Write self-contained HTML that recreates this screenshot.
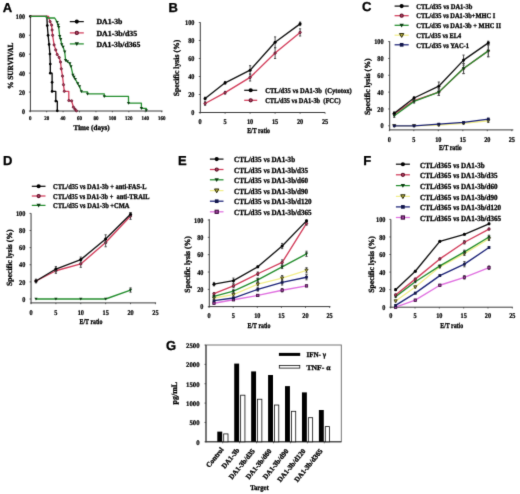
<!DOCTYPE html>
<html><head><meta charset="utf-8"><style>
html,body{margin:0;padding:0;background:#fff;}
svg{display:block;will-change:transform;text-rendering:geometricPrecision;}
</style></head><body>
<svg width="520" height="494" viewBox="0 0 520 494">
<defs><filter id="soft" x="0" y="0" width="100%" height="100%" filterUnits="userSpaceOnUse" color-interpolation-filters="sRGB"><feConvolveMatrix order="3" kernelMatrix="0.01134 0.08382 0.01134 0.08382 0.61935 0.08382 0.01134 0.08382 0.01134" edgeMode="duplicate" preserveAlpha="true"/></filter></defs>
<rect width="520" height="494" fill="#fff"/>
<g filter="url(#soft)">
<rect width="520" height="494" fill="#fff"/>
<text x="2.70" y="11.50" font-family="Liberation Sans" font-size="13" font-weight="bold" fill="#000" text-anchor="start" stroke="#000" stroke-width="0.3">A</text>
<line x1="30.40" y1="16.30" x2="30.40" y2="111.50" stroke="#3a3a3a" stroke-width="1.0"/>
<line x1="29.90" y1="111.00" x2="162.50" y2="111.00" stroke="#3a3a3a" stroke-width="1.0"/>
<line x1="28.90" y1="111.00" x2="30.40" y2="111.00" stroke="#3a3a3a" stroke-width="0.8"/>
<text x="25.00" y="113.58" font-family="Liberation Serif" font-size="7.0" font-weight="bold" fill="#000" text-anchor="end" stroke="#000" stroke-width="0.22" textLength="3.04" lengthAdjust="spacingAndGlyphs">0</text>
<line x1="28.90" y1="92.06" x2="30.40" y2="92.06" stroke="#3a3a3a" stroke-width="0.8"/>
<text x="25.00" y="94.64" font-family="Liberation Serif" font-size="7.0" font-weight="bold" fill="#000" text-anchor="end" stroke="#000" stroke-width="0.22" textLength="6.09" lengthAdjust="spacingAndGlyphs">20</text>
<line x1="28.90" y1="73.12" x2="30.40" y2="73.12" stroke="#3a3a3a" stroke-width="0.8"/>
<text x="25.00" y="75.70" font-family="Liberation Serif" font-size="7.0" font-weight="bold" fill="#000" text-anchor="end" stroke="#000" stroke-width="0.22" textLength="6.09" lengthAdjust="spacingAndGlyphs">40</text>
<line x1="28.90" y1="54.18" x2="30.40" y2="54.18" stroke="#3a3a3a" stroke-width="0.8"/>
<text x="25.00" y="56.76" font-family="Liberation Serif" font-size="7.0" font-weight="bold" fill="#000" text-anchor="end" stroke="#000" stroke-width="0.22" textLength="6.09" lengthAdjust="spacingAndGlyphs">60</text>
<line x1="28.90" y1="35.24" x2="30.40" y2="35.24" stroke="#3a3a3a" stroke-width="0.8"/>
<text x="25.00" y="37.82" font-family="Liberation Serif" font-size="7.0" font-weight="bold" fill="#000" text-anchor="end" stroke="#000" stroke-width="0.22" textLength="6.09" lengthAdjust="spacingAndGlyphs">80</text>
<line x1="28.90" y1="16.30" x2="30.40" y2="16.30" stroke="#3a3a3a" stroke-width="0.8"/>
<text x="25.00" y="18.88" font-family="Liberation Serif" font-size="7.0" font-weight="bold" fill="#000" text-anchor="end" stroke="#000" stroke-width="0.22" textLength="9.13" lengthAdjust="spacingAndGlyphs">100</text>
<line x1="30.20" y1="111.00" x2="30.20" y2="112.30" stroke="#3a3a3a" stroke-width="0.8"/>
<text x="30.20" y="119.98" font-family="Liberation Serif" font-size="5.7" font-weight="bold" fill="#000" text-anchor="middle" stroke="#000" stroke-width="0.22" textLength="2.48" lengthAdjust="spacingAndGlyphs">0</text>
<line x1="46.64" y1="111.00" x2="46.64" y2="112.30" stroke="#3a3a3a" stroke-width="0.8"/>
<text x="46.64" y="119.98" font-family="Liberation Serif" font-size="5.7" font-weight="bold" fill="#000" text-anchor="middle" stroke="#000" stroke-width="0.22" textLength="4.96" lengthAdjust="spacingAndGlyphs">20</text>
<line x1="63.08" y1="111.00" x2="63.08" y2="112.30" stroke="#3a3a3a" stroke-width="0.8"/>
<text x="63.08" y="119.98" font-family="Liberation Serif" font-size="5.7" font-weight="bold" fill="#000" text-anchor="middle" stroke="#000" stroke-width="0.22" textLength="4.96" lengthAdjust="spacingAndGlyphs">40</text>
<line x1="79.52" y1="111.00" x2="79.52" y2="112.30" stroke="#3a3a3a" stroke-width="0.8"/>
<text x="79.52" y="119.98" font-family="Liberation Serif" font-size="5.7" font-weight="bold" fill="#000" text-anchor="middle" stroke="#000" stroke-width="0.22" textLength="4.96" lengthAdjust="spacingAndGlyphs">60</text>
<line x1="95.96" y1="111.00" x2="95.96" y2="112.30" stroke="#3a3a3a" stroke-width="0.8"/>
<text x="95.96" y="119.98" font-family="Liberation Serif" font-size="5.7" font-weight="bold" fill="#000" text-anchor="middle" stroke="#000" stroke-width="0.22" textLength="4.96" lengthAdjust="spacingAndGlyphs">80</text>
<line x1="112.40" y1="111.00" x2="112.40" y2="112.30" stroke="#3a3a3a" stroke-width="0.8"/>
<text x="112.40" y="119.98" font-family="Liberation Serif" font-size="5.7" font-weight="bold" fill="#000" text-anchor="middle" stroke="#000" stroke-width="0.22" textLength="7.44" lengthAdjust="spacingAndGlyphs">100</text>
<line x1="128.84" y1="111.00" x2="128.84" y2="112.30" stroke="#3a3a3a" stroke-width="0.8"/>
<text x="128.84" y="119.98" font-family="Liberation Serif" font-size="5.7" font-weight="bold" fill="#000" text-anchor="middle" stroke="#000" stroke-width="0.22" textLength="7.44" lengthAdjust="spacingAndGlyphs">120</text>
<line x1="145.28" y1="111.00" x2="145.28" y2="112.30" stroke="#3a3a3a" stroke-width="0.8"/>
<text x="145.28" y="119.98" font-family="Liberation Serif" font-size="5.7" font-weight="bold" fill="#000" text-anchor="middle" stroke="#000" stroke-width="0.22" textLength="7.44" lengthAdjust="spacingAndGlyphs">140</text>
<line x1="161.72" y1="111.00" x2="161.72" y2="112.30" stroke="#3a3a3a" stroke-width="0.8"/>
<text x="161.72" y="119.98" font-family="Liberation Serif" font-size="5.7" font-weight="bold" fill="#000" text-anchor="middle" stroke="#000" stroke-width="0.22" textLength="7.44" lengthAdjust="spacingAndGlyphs">160</text>
<text x="73.50" y="129.70" font-family="Liberation Serif" font-size="7.4" font-weight="bold" fill="#000" text-anchor="start" stroke="#000" stroke-width="0.3" textLength="36.20" lengthAdjust="spacingAndGlyphs">Time (days)</text>
<text x="12.60" y="65.80" transform="rotate(-90 12.60 65.80)" font-family="Liberation Serif" font-size="7.8" font-weight="bold" fill="#000" text-anchor="middle" stroke="#000" stroke-width="0.3" textLength="46.60" lengthAdjust="spacingAndGlyphs">% SURVIVAL</text>
<polyline points="30.40,16.30 46.90,16.30 46.90,17.50 47.30,25.60 48.10,35.30 49.10,44.40 49.90,54.00 50.30,64.00 50.30,73.20 52.10,73.20 52.10,91.40 55.80,91.40 55.80,101.10 57.30,101.10 57.30,110.80" fill="none" stroke="#000" stroke-width="1.3" stroke-linejoin="round"/>
<circle cx="30.40" cy="16.30" r="1.35" fill="#000"/>
<circle cx="46.90" cy="17.00" r="1.35" fill="#000"/>
<circle cx="47.30" cy="25.60" r="1.35" fill="#000"/>
<circle cx="48.10" cy="35.30" r="1.35" fill="#000"/>
<circle cx="49.10" cy="44.40" r="1.35" fill="#000"/>
<circle cx="49.90" cy="54.00" r="1.35" fill="#000"/>
<circle cx="50.30" cy="64.00" r="1.35" fill="#000"/>
<circle cx="50.30" cy="73.20" r="1.35" fill="#000"/>
<circle cx="52.10" cy="82.30" r="1.35" fill="#000"/>
<circle cx="52.10" cy="91.40" r="1.35" fill="#000"/>
<circle cx="55.80" cy="101.10" r="1.35" fill="#000"/>
<circle cx="57.30" cy="110.80" r="1.35" fill="#000"/>
<polyline points="30.40,16.30 48.60,16.30 48.60,17.00 50.10,21.60 51.60,25.10 52.60,35.30 54.10,44.90 55.70,49.90 57.20,54.50 59.20,57.50 60.50,62.00 61.30,68.80 62.50,76.10 63.50,84.70 64.30,91.30 68.80,91.30 68.80,100.50 71.60,100.80 73.40,107.20 76.40,110.80" fill="none" stroke="#d23c5a" stroke-width="1.3" stroke-linejoin="round"/>
<circle cx="50.10" cy="21.60" r="1.12" fill="#b04060" stroke="#5a0c24" stroke-width="0.72"/>
<circle cx="51.60" cy="25.10" r="1.12" fill="#b04060" stroke="#5a0c24" stroke-width="0.72"/>
<circle cx="52.10" cy="30.00" r="1.12" fill="#b04060" stroke="#5a0c24" stroke-width="0.72"/>
<circle cx="52.60" cy="35.30" r="1.12" fill="#b04060" stroke="#5a0c24" stroke-width="0.72"/>
<circle cx="54.10" cy="44.90" r="1.12" fill="#b04060" stroke="#5a0c24" stroke-width="0.72"/>
<circle cx="55.70" cy="49.90" r="1.12" fill="#b04060" stroke="#5a0c24" stroke-width="0.72"/>
<circle cx="57.20" cy="54.50" r="1.12" fill="#b04060" stroke="#5a0c24" stroke-width="0.72"/>
<circle cx="59.20" cy="57.50" r="1.12" fill="#b04060" stroke="#5a0c24" stroke-width="0.72"/>
<circle cx="60.50" cy="62.00" r="1.12" fill="#b04060" stroke="#5a0c24" stroke-width="0.72"/>
<circle cx="61.30" cy="68.80" r="1.12" fill="#b04060" stroke="#5a0c24" stroke-width="0.72"/>
<circle cx="62.50" cy="76.10" r="1.12" fill="#b04060" stroke="#5a0c24" stroke-width="0.72"/>
<circle cx="63.50" cy="84.70" r="1.12" fill="#b04060" stroke="#5a0c24" stroke-width="0.72"/>
<circle cx="64.30" cy="91.30" r="1.12" fill="#b04060" stroke="#5a0c24" stroke-width="0.72"/>
<circle cx="68.80" cy="100.50" r="1.12" fill="#b04060" stroke="#5a0c24" stroke-width="0.72"/>
<circle cx="71.60" cy="100.80" r="1.12" fill="#b04060" stroke="#5a0c24" stroke-width="0.72"/>
<circle cx="73.40" cy="107.20" r="1.12" fill="#b04060" stroke="#5a0c24" stroke-width="0.72"/>
<circle cx="75.00" cy="109.20" r="1.12" fill="#b04060" stroke="#5a0c24" stroke-width="0.72"/>
<circle cx="76.40" cy="110.80" r="1.12" fill="#b04060" stroke="#5a0c24" stroke-width="0.72"/>
<polyline points="30.40,16.30 46.60,16.30 46.60,18.00 54.70,18.00 57.20,22.10 58.70,27.20 59.70,36.30 60.70,39.30 61.70,44.40 63.10,47.00 64.70,51.80 65.60,60.30 67.40,61.50 69.80,63.40 71.00,66.40 72.90,74.90 75.30,79.20 77.70,83.40 79.50,86.50 81.40,91.40 81.40,91.80 87.50,91.80 87.50,93.90 104.30,93.90 104.30,96.40 128.50,96.40 128.50,103.20 141.40,103.20 141.40,108.30 146.30,108.30 146.30,110.70" fill="none" stroke="#248e2e" stroke-width="1.3" stroke-linejoin="round"/>
<polygon points="55.59,20.89 58.82,20.89 57.20,23.71" fill="#0a3a10"/>
<polygon points="56.59,23.79 59.82,23.79 58.20,26.61" fill="#0a3a10"/>
<polygon points="57.09,25.99 60.32,25.99 58.70,28.81" fill="#0a3a10"/>
<polygon points="58.09,35.09 61.32,35.09 59.70,37.91" fill="#0a3a10"/>
<polygon points="59.09,38.09 62.32,38.09 60.70,40.91" fill="#0a3a10"/>
<polygon points="60.09,43.19 63.32,43.19 61.70,46.02" fill="#0a3a10"/>
<polygon points="61.48,45.79 64.72,45.79 63.10,48.62" fill="#0a3a10"/>
<polygon points="63.09,50.59 66.31,50.59 64.70,53.41" fill="#0a3a10"/>
<polygon points="63.98,59.09 67.21,59.09 65.60,61.91" fill="#0a3a10"/>
<polygon points="65.79,60.29 69.02,60.29 67.40,63.12" fill="#0a3a10"/>
<polygon points="68.19,62.19 71.41,62.19 69.80,65.02" fill="#0a3a10"/>
<polygon points="69.39,65.19 72.61,65.19 71.00,68.02" fill="#0a3a10"/>
<polygon points="71.29,73.69 74.52,73.69 72.90,76.52" fill="#0a3a10"/>
<polygon points="72.39,75.79 75.61,75.79 74.00,78.61" fill="#0a3a10"/>
<polygon points="73.69,77.99 76.91,77.99 75.30,80.81" fill="#0a3a10"/>
<polygon points="76.09,82.19 79.31,82.19 77.70,85.02" fill="#0a3a10"/>
<polygon points="77.89,85.29 81.11,85.29 79.50,88.11" fill="#0a3a10"/>
<polygon points="79.79,90.19 83.02,90.19 81.40,93.02" fill="#0a3a10"/>
<polygon points="85.89,92.69 89.11,92.69 87.50,95.52" fill="#0a3a10"/>
<polygon points="102.69,95.19 105.91,95.19 104.30,98.02" fill="#0a3a10"/>
<polygon points="126.89,101.99 130.12,101.99 128.50,104.81" fill="#0a3a10"/>
<polygon points="139.78,107.09 143.02,107.09 141.40,109.91" fill="#0a3a10"/>
<polygon points="144.69,109.29 147.92,109.29 146.30,112.11" fill="#0a3a10"/>
<line x1="69.80" y1="21.60" x2="83.80" y2="21.60" stroke="#111111" stroke-width="1.25"/>
<circle cx="76.80" cy="21.60" r="2.07" fill="#000"/>
<text x="96.40" y="24.40" font-family="Liberation Serif" font-size="7.7" font-weight="bold" fill="#000" text-anchor="start" stroke="#000" stroke-width="0.3" textLength="26.00" lengthAdjust="spacingAndGlyphs">DA1-3b</text>
<line x1="69.80" y1="32.90" x2="83.80" y2="32.90" stroke="#d23c5a" stroke-width="1.25"/>
<circle cx="76.80" cy="32.90" r="1.61" fill="#b04060" stroke="#5a0c24" stroke-width="1.03"/>
<text x="96.40" y="35.70" font-family="Liberation Serif" font-size="7.7" font-weight="bold" fill="#000" text-anchor="start" stroke="#000" stroke-width="0.3" textLength="40.90" lengthAdjust="spacingAndGlyphs">DA1-3b/d35</text>
<line x1="69.80" y1="43.90" x2="83.80" y2="43.90" stroke="#248e2e" stroke-width="1.25"/>
<polygon points="74.61,42.26 78.98,42.26 76.80,46.09" fill="#0a3a10"/>
<text x="96.40" y="46.70" font-family="Liberation Serif" font-size="7.7" font-weight="bold" fill="#000" text-anchor="start" stroke="#000" stroke-width="0.3" textLength="44.00" lengthAdjust="spacingAndGlyphs">DA1-3b/d365</text>
<text x="168.50" y="11.50" font-family="Liberation Sans" font-size="13" font-weight="bold" fill="#000" text-anchor="start" stroke="#000" stroke-width="0.3">B</text>
<line x1="200.30" y1="22.30" x2="200.30" y2="113.00" stroke="#3a3a3a" stroke-width="1.0"/>
<line x1="199.80" y1="112.50" x2="325.10" y2="112.50" stroke="#3a3a3a" stroke-width="1.0"/>
<line x1="198.80" y1="112.50" x2="200.30" y2="112.50" stroke="#3a3a3a" stroke-width="0.8"/>
<text x="194.50" y="115.15" font-family="Liberation Serif" font-size="7.2" font-weight="bold" fill="#000" text-anchor="end" stroke="#000" stroke-width="0.22" textLength="3.13" lengthAdjust="spacingAndGlyphs">0</text>
<line x1="198.80" y1="94.50" x2="200.30" y2="94.50" stroke="#3a3a3a" stroke-width="0.8"/>
<text x="194.50" y="97.15" font-family="Liberation Serif" font-size="7.2" font-weight="bold" fill="#000" text-anchor="end" stroke="#000" stroke-width="0.22" textLength="6.26" lengthAdjust="spacingAndGlyphs">20</text>
<line x1="198.80" y1="76.50" x2="200.30" y2="76.50" stroke="#3a3a3a" stroke-width="0.8"/>
<text x="194.50" y="79.15" font-family="Liberation Serif" font-size="7.2" font-weight="bold" fill="#000" text-anchor="end" stroke="#000" stroke-width="0.22" textLength="6.26" lengthAdjust="spacingAndGlyphs">40</text>
<line x1="198.80" y1="58.50" x2="200.30" y2="58.50" stroke="#3a3a3a" stroke-width="0.8"/>
<text x="194.50" y="61.15" font-family="Liberation Serif" font-size="7.2" font-weight="bold" fill="#000" text-anchor="end" stroke="#000" stroke-width="0.22" textLength="6.26" lengthAdjust="spacingAndGlyphs">60</text>
<line x1="198.80" y1="40.50" x2="200.30" y2="40.50" stroke="#3a3a3a" stroke-width="0.8"/>
<text x="194.50" y="43.15" font-family="Liberation Serif" font-size="7.2" font-weight="bold" fill="#000" text-anchor="end" stroke="#000" stroke-width="0.22" textLength="6.26" lengthAdjust="spacingAndGlyphs">80</text>
<line x1="198.80" y1="22.50" x2="200.30" y2="22.50" stroke="#3a3a3a" stroke-width="0.8"/>
<text x="194.50" y="25.15" font-family="Liberation Serif" font-size="7.2" font-weight="bold" fill="#000" text-anchor="end" stroke="#000" stroke-width="0.22" textLength="9.40" lengthAdjust="spacingAndGlyphs">100</text>
<line x1="200.10" y1="112.50" x2="200.10" y2="113.80" stroke="#3a3a3a" stroke-width="0.8"/>
<text x="200.10" y="124.18" font-family="Liberation Serif" font-size="7.2" font-weight="bold" fill="#000" text-anchor="middle" stroke="#000" stroke-width="0.22" textLength="3.13" lengthAdjust="spacingAndGlyphs">0</text>
<line x1="225.10" y1="112.50" x2="225.10" y2="113.80" stroke="#3a3a3a" stroke-width="0.8"/>
<text x="225.10" y="124.18" font-family="Liberation Serif" font-size="7.2" font-weight="bold" fill="#000" text-anchor="middle" stroke="#000" stroke-width="0.22" textLength="3.13" lengthAdjust="spacingAndGlyphs">5</text>
<line x1="250.10" y1="112.50" x2="250.10" y2="113.80" stroke="#3a3a3a" stroke-width="0.8"/>
<text x="250.10" y="124.18" font-family="Liberation Serif" font-size="7.2" font-weight="bold" fill="#000" text-anchor="middle" stroke="#000" stroke-width="0.22" textLength="6.26" lengthAdjust="spacingAndGlyphs">10</text>
<line x1="275.10" y1="112.50" x2="275.10" y2="113.80" stroke="#3a3a3a" stroke-width="0.8"/>
<text x="275.10" y="124.18" font-family="Liberation Serif" font-size="7.2" font-weight="bold" fill="#000" text-anchor="middle" stroke="#000" stroke-width="0.22" textLength="6.26" lengthAdjust="spacingAndGlyphs">15</text>
<line x1="300.10" y1="112.50" x2="300.10" y2="113.80" stroke="#3a3a3a" stroke-width="0.8"/>
<text x="300.10" y="124.18" font-family="Liberation Serif" font-size="7.2" font-weight="bold" fill="#000" text-anchor="middle" stroke="#000" stroke-width="0.22" textLength="6.26" lengthAdjust="spacingAndGlyphs">20</text>
<line x1="325.10" y1="112.50" x2="325.10" y2="113.80" stroke="#3a3a3a" stroke-width="0.8"/>
<text x="325.10" y="124.18" font-family="Liberation Serif" font-size="7.2" font-weight="bold" fill="#000" text-anchor="middle" stroke="#000" stroke-width="0.22" textLength="6.26" lengthAdjust="spacingAndGlyphs">25</text>
<text x="247.20" y="133.10" font-family="Liberation Serif" font-size="7.6" font-weight="bold" fill="#000" text-anchor="start" stroke="#000" stroke-width="0.3" textLength="22.80" lengthAdjust="spacingAndGlyphs">E/T ratio</text>
<text x="179.40" y="68.00" transform="rotate(-90 179.40 68.00)" font-family="Liberation Serif" font-size="7.9" font-weight="bold" fill="#000" text-anchor="middle" stroke="#000" stroke-width="0.3" textLength="56.50" lengthAdjust="spacingAndGlyphs">Specific lysis (%)</text>
<polyline points="205.10,103.50 225.10,92.70 250.10,77.40 275.10,53.10 300.10,32.40" fill="none" stroke="#d23c5a" stroke-width="1.35" stroke-linejoin="round"/>
<line x1="205.10" y1="105.30" x2="205.10" y2="101.70" stroke="#505050" stroke-width="1.0"/>
<line x1="204.00" y1="105.30" x2="206.20" y2="105.30" stroke="#505050" stroke-width="1.0"/>
<line x1="204.00" y1="101.70" x2="206.20" y2="101.70" stroke="#505050" stroke-width="1.0"/>
<line x1="225.10" y1="94.05" x2="225.10" y2="91.35" stroke="#505050" stroke-width="1.0"/>
<line x1="224.00" y1="94.05" x2="226.20" y2="94.05" stroke="#505050" stroke-width="1.0"/>
<line x1="224.00" y1="91.35" x2="226.20" y2="91.35" stroke="#505050" stroke-width="1.0"/>
<line x1="250.10" y1="81.00" x2="250.10" y2="73.80" stroke="#505050" stroke-width="1.0"/>
<line x1="249.00" y1="81.00" x2="251.20" y2="81.00" stroke="#505050" stroke-width="1.0"/>
<line x1="249.00" y1="73.80" x2="251.20" y2="73.80" stroke="#505050" stroke-width="1.0"/>
<line x1="275.10" y1="58.50" x2="275.10" y2="47.70" stroke="#505050" stroke-width="1.0"/>
<line x1="274.00" y1="58.50" x2="276.20" y2="58.50" stroke="#505050" stroke-width="1.0"/>
<line x1="274.00" y1="47.70" x2="276.20" y2="47.70" stroke="#505050" stroke-width="1.0"/>
<line x1="300.10" y1="36.00" x2="300.10" y2="28.80" stroke="#505050" stroke-width="1.0"/>
<line x1="299.00" y1="36.00" x2="301.20" y2="36.00" stroke="#505050" stroke-width="1.0"/>
<line x1="299.00" y1="28.80" x2="301.20" y2="28.80" stroke="#505050" stroke-width="1.0"/>
<circle cx="205.10" cy="103.50" r="1.19" fill="#b04060" stroke="#5a0c24" stroke-width="0.77"/>
<circle cx="225.10" cy="92.70" r="1.19" fill="#b04060" stroke="#5a0c24" stroke-width="0.77"/>
<circle cx="250.10" cy="77.40" r="1.19" fill="#b04060" stroke="#5a0c24" stroke-width="0.77"/>
<circle cx="275.10" cy="53.10" r="1.19" fill="#b04060" stroke="#5a0c24" stroke-width="0.77"/>
<circle cx="300.10" cy="32.40" r="1.19" fill="#b04060" stroke="#5a0c24" stroke-width="0.77"/>
<polyline points="205.10,98.55 225.10,82.80 250.10,70.20 275.10,42.30 300.10,23.85" fill="none" stroke="#111111" stroke-width="1.35" stroke-linejoin="round"/>
<line x1="205.10" y1="99.90" x2="205.10" y2="97.20" stroke="#505050" stroke-width="1.0"/>
<line x1="204.00" y1="99.90" x2="206.20" y2="99.90" stroke="#505050" stroke-width="1.0"/>
<line x1="204.00" y1="97.20" x2="206.20" y2="97.20" stroke="#505050" stroke-width="1.0"/>
<line x1="225.10" y1="84.15" x2="225.10" y2="81.45" stroke="#505050" stroke-width="1.0"/>
<line x1="224.00" y1="84.15" x2="226.20" y2="84.15" stroke="#505050" stroke-width="1.0"/>
<line x1="224.00" y1="81.45" x2="226.20" y2="81.45" stroke="#505050" stroke-width="1.0"/>
<line x1="250.10" y1="74.70" x2="250.10" y2="65.70" stroke="#505050" stroke-width="1.0"/>
<line x1="249.00" y1="74.70" x2="251.20" y2="74.70" stroke="#505050" stroke-width="1.0"/>
<line x1="249.00" y1="65.70" x2="251.20" y2="65.70" stroke="#505050" stroke-width="1.0"/>
<line x1="275.10" y1="47.70" x2="275.10" y2="36.90" stroke="#505050" stroke-width="1.0"/>
<line x1="274.00" y1="47.70" x2="276.20" y2="47.70" stroke="#505050" stroke-width="1.0"/>
<line x1="274.00" y1="36.90" x2="276.20" y2="36.90" stroke="#505050" stroke-width="1.0"/>
<line x1="300.10" y1="25.65" x2="300.10" y2="22.05" stroke="#505050" stroke-width="1.0"/>
<line x1="299.00" y1="25.65" x2="301.20" y2="25.65" stroke="#505050" stroke-width="1.0"/>
<line x1="299.00" y1="22.05" x2="301.20" y2="22.05" stroke="#505050" stroke-width="1.0"/>
<circle cx="205.10" cy="98.55" r="1.53" fill="#000"/>
<circle cx="225.10" cy="82.80" r="1.53" fill="#000"/>
<circle cx="250.10" cy="70.20" r="1.53" fill="#000"/>
<circle cx="275.10" cy="42.30" r="1.53" fill="#000"/>
<circle cx="300.10" cy="23.85" r="1.53" fill="#000"/>
<line x1="244.20" y1="90.30" x2="257.20" y2="90.30" stroke="#111111" stroke-width="1.25"/>
<circle cx="250.70" cy="90.30" r="2.07" fill="#000"/>
<text x="265.20" y="92.80" font-family="Liberation Serif" font-size="7.2" font-weight="bold" fill="#000" text-anchor="start" stroke="#000" stroke-width="0.3" textLength="86.60" lengthAdjust="spacingAndGlyphs" style="white-space:pre">CTL/d35 vs DA1-3b  (Cytotox)</text>
<line x1="244.20" y1="100.30" x2="257.20" y2="100.30" stroke="#d23c5a" stroke-width="1.25"/>
<circle cx="250.70" cy="100.30" r="1.61" fill="#b04060" stroke="#5a0c24" stroke-width="1.03"/>
<text x="265.20" y="102.80" font-family="Liberation Serif" font-size="7.2" font-weight="bold" fill="#000" text-anchor="start" stroke="#000" stroke-width="0.3" textLength="75.50" lengthAdjust="spacingAndGlyphs" style="white-space:pre">CTL/d35 vs DA1-3b  (FCC)</text>
<text x="362.00" y="10.80" font-family="Liberation Sans" font-size="13" font-weight="bold" fill="#000" text-anchor="start" stroke="#000" stroke-width="0.3">C</text>
<line x1="389.70" y1="41.20" x2="389.70" y2="130.40" stroke="#3a3a3a" stroke-width="1.0"/>
<line x1="389.20" y1="129.90" x2="513.30" y2="129.90" stroke="#3a3a3a" stroke-width="1.0"/>
<line x1="388.20" y1="125.80" x2="389.70" y2="125.80" stroke="#3a3a3a" stroke-width="0.8"/>
<text x="383.60" y="128.45" font-family="Liberation Serif" font-size="7.2" font-weight="bold" fill="#000" text-anchor="end" stroke="#000" stroke-width="0.22" textLength="3.13" lengthAdjust="spacingAndGlyphs">0</text>
<line x1="388.20" y1="108.96" x2="389.70" y2="108.96" stroke="#3a3a3a" stroke-width="0.8"/>
<text x="383.60" y="111.61" font-family="Liberation Serif" font-size="7.2" font-weight="bold" fill="#000" text-anchor="end" stroke="#000" stroke-width="0.22" textLength="6.26" lengthAdjust="spacingAndGlyphs">20</text>
<line x1="388.20" y1="92.12" x2="389.70" y2="92.12" stroke="#3a3a3a" stroke-width="0.8"/>
<text x="383.60" y="94.77" font-family="Liberation Serif" font-size="7.2" font-weight="bold" fill="#000" text-anchor="end" stroke="#000" stroke-width="0.22" textLength="6.26" lengthAdjust="spacingAndGlyphs">40</text>
<line x1="388.20" y1="75.28" x2="389.70" y2="75.28" stroke="#3a3a3a" stroke-width="0.8"/>
<text x="383.60" y="77.93" font-family="Liberation Serif" font-size="7.2" font-weight="bold" fill="#000" text-anchor="end" stroke="#000" stroke-width="0.22" textLength="6.26" lengthAdjust="spacingAndGlyphs">60</text>
<line x1="388.20" y1="58.44" x2="389.70" y2="58.44" stroke="#3a3a3a" stroke-width="0.8"/>
<text x="383.60" y="61.09" font-family="Liberation Serif" font-size="7.2" font-weight="bold" fill="#000" text-anchor="end" stroke="#000" stroke-width="0.22" textLength="6.26" lengthAdjust="spacingAndGlyphs">80</text>
<line x1="388.20" y1="41.60" x2="389.70" y2="41.60" stroke="#3a3a3a" stroke-width="0.8"/>
<text x="383.60" y="44.25" font-family="Liberation Serif" font-size="7.2" font-weight="bold" fill="#000" text-anchor="end" stroke="#000" stroke-width="0.22" textLength="9.40" lengthAdjust="spacingAndGlyphs">100</text>
<line x1="389.30" y1="129.90" x2="389.30" y2="131.20" stroke="#3a3a3a" stroke-width="0.8"/>
<text x="389.30" y="141.68" font-family="Liberation Serif" font-size="7.2" font-weight="bold" fill="#000" text-anchor="middle" stroke="#000" stroke-width="0.22" textLength="3.13" lengthAdjust="spacingAndGlyphs">0</text>
<line x1="413.80" y1="129.90" x2="413.80" y2="131.20" stroke="#3a3a3a" stroke-width="0.8"/>
<text x="413.80" y="141.68" font-family="Liberation Serif" font-size="7.2" font-weight="bold" fill="#000" text-anchor="middle" stroke="#000" stroke-width="0.22" textLength="3.13" lengthAdjust="spacingAndGlyphs">5</text>
<line x1="438.30" y1="129.90" x2="438.30" y2="131.20" stroke="#3a3a3a" stroke-width="0.8"/>
<text x="438.30" y="141.68" font-family="Liberation Serif" font-size="7.2" font-weight="bold" fill="#000" text-anchor="middle" stroke="#000" stroke-width="0.22" textLength="6.26" lengthAdjust="spacingAndGlyphs">10</text>
<line x1="462.80" y1="129.90" x2="462.80" y2="131.20" stroke="#3a3a3a" stroke-width="0.8"/>
<text x="462.80" y="141.68" font-family="Liberation Serif" font-size="7.2" font-weight="bold" fill="#000" text-anchor="middle" stroke="#000" stroke-width="0.22" textLength="6.26" lengthAdjust="spacingAndGlyphs">15</text>
<line x1="487.30" y1="129.90" x2="487.30" y2="131.20" stroke="#3a3a3a" stroke-width="0.8"/>
<text x="487.30" y="141.68" font-family="Liberation Serif" font-size="7.2" font-weight="bold" fill="#000" text-anchor="middle" stroke="#000" stroke-width="0.22" textLength="6.26" lengthAdjust="spacingAndGlyphs">20</text>
<line x1="511.80" y1="129.90" x2="511.80" y2="131.20" stroke="#3a3a3a" stroke-width="0.8"/>
<text x="511.80" y="141.68" font-family="Liberation Serif" font-size="7.2" font-weight="bold" fill="#000" text-anchor="middle" stroke="#000" stroke-width="0.22" textLength="6.26" lengthAdjust="spacingAndGlyphs">25</text>
<text x="438.90" y="150.00" font-family="Liberation Serif" font-size="7.6" font-weight="bold" fill="#000" text-anchor="start" stroke="#000" stroke-width="0.3" textLength="22.80" lengthAdjust="spacingAndGlyphs">E/T ratio</text>
<text x="369.60" y="86.80" transform="rotate(-90 369.60 86.80)" font-family="Liberation Serif" font-size="7.9" font-weight="bold" fill="#000" text-anchor="middle" stroke="#000" stroke-width="0.3" textLength="56.50" lengthAdjust="spacingAndGlyphs">Specific lysis (%)</text>
<polyline points="394.25,125.80 414.05,125.80 438.80,124.96 463.55,123.27 488.30,120.75" fill="none" stroke="#f2ee8a" stroke-width="1.35" stroke-linejoin="round"/>
<line x1="438.80" y1="125.80" x2="438.80" y2="124.12" stroke="#505050" stroke-width="1.0"/>
<line x1="437.70" y1="125.80" x2="439.90" y2="125.80" stroke="#505050" stroke-width="1.0"/>
<line x1="437.70" y1="124.12" x2="439.90" y2="124.12" stroke="#505050" stroke-width="1.0"/>
<line x1="463.55" y1="124.12" x2="463.55" y2="122.43" stroke="#505050" stroke-width="1.0"/>
<line x1="462.45" y1="124.12" x2="464.65" y2="124.12" stroke="#505050" stroke-width="1.0"/>
<line x1="462.45" y1="122.43" x2="464.65" y2="122.43" stroke="#505050" stroke-width="1.0"/>
<line x1="488.30" y1="122.43" x2="488.30" y2="119.06" stroke="#505050" stroke-width="1.0"/>
<line x1="487.20" y1="122.43" x2="489.40" y2="122.43" stroke="#505050" stroke-width="1.0"/>
<line x1="487.20" y1="119.06" x2="489.40" y2="119.06" stroke="#505050" stroke-width="1.0"/>
<polygon points="392.63,124.59 395.87,124.59 394.25,127.41" fill="#b8b040" stroke="#1e1e00" stroke-width="0.68"/>
<polygon points="412.44,124.59 415.67,124.59 414.05,127.41" fill="#b8b040" stroke="#1e1e00" stroke-width="0.68"/>
<polygon points="437.19,123.75 440.42,123.75 438.80,126.57" fill="#b8b040" stroke="#1e1e00" stroke-width="0.68"/>
<polygon points="461.94,122.06 465.17,122.06 463.55,124.89" fill="#b8b040" stroke="#1e1e00" stroke-width="0.68"/>
<polygon points="486.69,119.54 489.92,119.54 488.30,122.36" fill="#b8b040" stroke="#1e1e00" stroke-width="0.68"/>
<polyline points="394.25,125.80 414.05,125.80 438.80,124.12 463.55,122.43 488.30,119.06" fill="none" stroke="#1c2378" stroke-width="1.35" stroke-linejoin="round"/>
<line x1="463.55" y1="123.27" x2="463.55" y2="121.59" stroke="#505050" stroke-width="1.0"/>
<line x1="462.45" y1="123.27" x2="464.65" y2="123.27" stroke="#505050" stroke-width="1.0"/>
<line x1="462.45" y1="121.59" x2="464.65" y2="121.59" stroke="#505050" stroke-width="1.0"/>
<line x1="488.30" y1="119.91" x2="488.30" y2="118.22" stroke="#505050" stroke-width="1.0"/>
<line x1="487.20" y1="119.91" x2="489.40" y2="119.91" stroke="#505050" stroke-width="1.0"/>
<line x1="487.20" y1="118.22" x2="489.40" y2="118.22" stroke="#505050" stroke-width="1.0"/>
<rect x="392.89" y="124.44" width="2.72" height="2.72" fill="#12164a"/>
<rect x="412.69" y="124.44" width="2.72" height="2.72" fill="#12164a"/>
<rect x="437.44" y="122.76" width="2.72" height="2.72" fill="#12164a"/>
<rect x="462.19" y="121.07" width="2.72" height="2.72" fill="#12164a"/>
<rect x="486.94" y="117.70" width="2.72" height="2.72" fill="#12164a"/>
<polyline points="394.25,114.01 414.05,100.54 438.80,92.12 463.55,68.54 488.30,50.86" fill="none" stroke="#d23c5a" stroke-width="1.35" stroke-linejoin="round"/>
<line x1="394.25" y1="115.70" x2="394.25" y2="112.33" stroke="#505050" stroke-width="1.0"/>
<line x1="393.15" y1="115.70" x2="395.35" y2="115.70" stroke="#505050" stroke-width="1.0"/>
<line x1="393.15" y1="112.33" x2="395.35" y2="112.33" stroke="#505050" stroke-width="1.0"/>
<line x1="414.05" y1="102.22" x2="414.05" y2="98.86" stroke="#505050" stroke-width="1.0"/>
<line x1="412.95" y1="102.22" x2="415.15" y2="102.22" stroke="#505050" stroke-width="1.0"/>
<line x1="412.95" y1="98.86" x2="415.15" y2="98.86" stroke="#505050" stroke-width="1.0"/>
<line x1="438.80" y1="95.49" x2="438.80" y2="88.75" stroke="#505050" stroke-width="1.0"/>
<line x1="437.70" y1="95.49" x2="439.90" y2="95.49" stroke="#505050" stroke-width="1.0"/>
<line x1="437.70" y1="88.75" x2="439.90" y2="88.75" stroke="#505050" stroke-width="1.0"/>
<line x1="463.55" y1="73.60" x2="463.55" y2="63.49" stroke="#505050" stroke-width="1.0"/>
<line x1="462.45" y1="73.60" x2="464.65" y2="73.60" stroke="#505050" stroke-width="1.0"/>
<line x1="462.45" y1="63.49" x2="464.65" y2="63.49" stroke="#505050" stroke-width="1.0"/>
<line x1="488.30" y1="56.76" x2="488.30" y2="44.97" stroke="#505050" stroke-width="1.0"/>
<line x1="487.20" y1="56.76" x2="489.40" y2="56.76" stroke="#505050" stroke-width="1.0"/>
<line x1="487.20" y1="44.97" x2="489.40" y2="44.97" stroke="#505050" stroke-width="1.0"/>
<circle cx="394.25" cy="114.01" r="1.19" fill="#b04060" stroke="#5a0c24" stroke-width="0.77"/>
<circle cx="414.05" cy="100.54" r="1.19" fill="#b04060" stroke="#5a0c24" stroke-width="0.77"/>
<circle cx="438.80" cy="92.12" r="1.19" fill="#b04060" stroke="#5a0c24" stroke-width="0.77"/>
<circle cx="463.55" cy="68.54" r="1.19" fill="#b04060" stroke="#5a0c24" stroke-width="0.77"/>
<circle cx="488.30" cy="50.86" r="1.19" fill="#b04060" stroke="#5a0c24" stroke-width="0.77"/>
<polyline points="394.25,115.70 414.05,101.38 438.80,92.12 463.55,68.54 488.30,50.86" fill="none" stroke="#248e2e" stroke-width="1.35" stroke-linejoin="round"/>
<line x1="394.25" y1="117.38" x2="394.25" y2="114.01" stroke="#505050" stroke-width="1.0"/>
<line x1="393.15" y1="117.38" x2="395.35" y2="117.38" stroke="#505050" stroke-width="1.0"/>
<line x1="393.15" y1="114.01" x2="395.35" y2="114.01" stroke="#505050" stroke-width="1.0"/>
<line x1="414.05" y1="103.07" x2="414.05" y2="99.70" stroke="#505050" stroke-width="1.0"/>
<line x1="412.95" y1="103.07" x2="415.15" y2="103.07" stroke="#505050" stroke-width="1.0"/>
<line x1="412.95" y1="99.70" x2="415.15" y2="99.70" stroke="#505050" stroke-width="1.0"/>
<line x1="438.80" y1="95.49" x2="438.80" y2="88.75" stroke="#505050" stroke-width="1.0"/>
<line x1="437.70" y1="95.49" x2="439.90" y2="95.49" stroke="#505050" stroke-width="1.0"/>
<line x1="437.70" y1="88.75" x2="439.90" y2="88.75" stroke="#505050" stroke-width="1.0"/>
<line x1="463.55" y1="73.60" x2="463.55" y2="63.49" stroke="#505050" stroke-width="1.0"/>
<line x1="462.45" y1="73.60" x2="464.65" y2="73.60" stroke="#505050" stroke-width="1.0"/>
<line x1="462.45" y1="63.49" x2="464.65" y2="63.49" stroke="#505050" stroke-width="1.0"/>
<line x1="488.30" y1="56.76" x2="488.30" y2="44.97" stroke="#505050" stroke-width="1.0"/>
<line x1="487.20" y1="56.76" x2="489.40" y2="56.76" stroke="#505050" stroke-width="1.0"/>
<line x1="487.20" y1="44.97" x2="489.40" y2="44.97" stroke="#505050" stroke-width="1.0"/>
<polygon points="392.63,114.48 395.87,114.48 394.25,117.31" fill="#0a3a10"/>
<polygon points="412.44,100.17 415.67,100.17 414.05,103.00" fill="#0a3a10"/>
<polygon points="437.19,90.91 440.42,90.91 438.80,93.73" fill="#0a3a10"/>
<polygon points="461.94,67.33 465.17,67.33 463.55,70.16" fill="#0a3a10"/>
<polygon points="486.69,49.65 489.92,49.65 488.30,52.48" fill="#0a3a10"/>
<polyline points="394.25,113.17 414.05,98.01 438.80,86.23 463.55,60.12 488.30,42.86" fill="none" stroke="#111111" stroke-width="1.35" stroke-linejoin="round"/>
<line x1="394.25" y1="114.43" x2="394.25" y2="111.91" stroke="#505050" stroke-width="1.0"/>
<line x1="393.15" y1="114.43" x2="395.35" y2="114.43" stroke="#505050" stroke-width="1.0"/>
<line x1="393.15" y1="111.91" x2="395.35" y2="111.91" stroke="#505050" stroke-width="1.0"/>
<line x1="414.05" y1="99.28" x2="414.05" y2="96.75" stroke="#505050" stroke-width="1.0"/>
<line x1="412.95" y1="99.28" x2="415.15" y2="99.28" stroke="#505050" stroke-width="1.0"/>
<line x1="412.95" y1="96.75" x2="415.15" y2="96.75" stroke="#505050" stroke-width="1.0"/>
<line x1="438.80" y1="90.44" x2="438.80" y2="82.02" stroke="#505050" stroke-width="1.0"/>
<line x1="437.70" y1="90.44" x2="439.90" y2="90.44" stroke="#505050" stroke-width="1.0"/>
<line x1="437.70" y1="82.02" x2="439.90" y2="82.02" stroke="#505050" stroke-width="1.0"/>
<line x1="463.55" y1="65.18" x2="463.55" y2="55.07" stroke="#505050" stroke-width="1.0"/>
<line x1="462.45" y1="65.18" x2="464.65" y2="65.18" stroke="#505050" stroke-width="1.0"/>
<line x1="462.45" y1="55.07" x2="464.65" y2="55.07" stroke="#505050" stroke-width="1.0"/>
<line x1="488.30" y1="44.55" x2="488.30" y2="41.18" stroke="#505050" stroke-width="1.0"/>
<line x1="487.20" y1="44.55" x2="489.40" y2="44.55" stroke="#505050" stroke-width="1.0"/>
<line x1="487.20" y1="41.18" x2="489.40" y2="41.18" stroke="#505050" stroke-width="1.0"/>
<circle cx="394.25" cy="113.17" r="1.53" fill="#000"/>
<circle cx="414.05" cy="98.01" r="1.53" fill="#000"/>
<circle cx="438.80" cy="86.23" r="1.53" fill="#000"/>
<circle cx="463.55" cy="60.12" r="1.53" fill="#000"/>
<circle cx="488.30" cy="42.86" r="1.53" fill="#000"/>
<line x1="394.60" y1="6.10" x2="408.70" y2="6.10" stroke="#111111" stroke-width="1.25"/>
<circle cx="401.65" cy="6.10" r="2.07" fill="#000"/>
<text x="416.30" y="8.80" font-family="Liberation Serif" font-size="7.3" font-weight="bold" fill="#000" text-anchor="start" stroke="#000" stroke-width="0.3" textLength="56.10" lengthAdjust="spacingAndGlyphs">CTL/d35 vs DA1-3b</text>
<line x1="394.60" y1="15.70" x2="408.70" y2="15.70" stroke="#d23c5a" stroke-width="1.25"/>
<circle cx="401.65" cy="15.70" r="1.61" fill="#b04060" stroke="#5a0c24" stroke-width="1.03"/>
<text x="416.30" y="18.40" font-family="Liberation Serif" font-size="7.3" font-weight="bold" fill="#000" text-anchor="start" stroke="#000" stroke-width="0.3" textLength="79.00" lengthAdjust="spacingAndGlyphs">CTL/d35 vs DA1-3b+MHC I</text>
<line x1="394.60" y1="25.30" x2="408.70" y2="25.30" stroke="#248e2e" stroke-width="1.25"/>
<polygon points="399.46,23.66 403.83,23.66 401.65,27.48" fill="#0a3a10"/>
<text x="416.30" y="28.00" font-family="Liberation Serif" font-size="7.3" font-weight="bold" fill="#000" text-anchor="start" stroke="#000" stroke-width="0.3" textLength="84.60" lengthAdjust="spacingAndGlyphs">CTL/d35 vs DA1-3b + MHC II</text>
<line x1="394.60" y1="35.20" x2="408.70" y2="35.20" stroke="#f2ee8a" stroke-width="1.25"/>
<polygon points="399.46,33.56 403.83,33.56 401.65,37.39" fill="#b8b040" stroke="#1e1e00" stroke-width="0.92"/>
<text x="416.30" y="37.90" font-family="Liberation Serif" font-size="7.3" font-weight="bold" fill="#000" text-anchor="start" stroke="#000" stroke-width="0.3" textLength="44.90" lengthAdjust="spacingAndGlyphs">CTL/d35 vs EL4</text>
<line x1="394.60" y1="44.80" x2="408.70" y2="44.80" stroke="#1c2378" stroke-width="1.25"/>
<rect x="399.81" y="42.96" width="3.68" height="3.68" fill="#12164a"/>
<text x="416.30" y="47.50" font-family="Liberation Serif" font-size="7.3" font-weight="bold" fill="#000" text-anchor="start" stroke="#000" stroke-width="0.3" textLength="52.70" lengthAdjust="spacingAndGlyphs">CTL/d35 vs YAC-1</text>
<text x="3.00" y="165.00" font-family="Liberation Sans" font-size="13" font-weight="bold" fill="#000" text-anchor="start" stroke="#000" stroke-width="0.3">D</text>
<line x1="31.05" y1="213.30" x2="31.05" y2="303.40" stroke="#3a3a3a" stroke-width="1.0"/>
<line x1="30.55" y1="302.90" x2="156.10" y2="302.90" stroke="#3a3a3a" stroke-width="1.0"/>
<line x1="29.55" y1="299.00" x2="31.05" y2="299.00" stroke="#3a3a3a" stroke-width="0.8"/>
<text x="25.30" y="301.65" font-family="Liberation Serif" font-size="7.2" font-weight="bold" fill="#000" text-anchor="end" stroke="#000" stroke-width="0.22" textLength="3.13" lengthAdjust="spacingAndGlyphs">0</text>
<line x1="29.55" y1="281.88" x2="31.05" y2="281.88" stroke="#3a3a3a" stroke-width="0.8"/>
<text x="25.30" y="284.53" font-family="Liberation Serif" font-size="7.2" font-weight="bold" fill="#000" text-anchor="end" stroke="#000" stroke-width="0.22" textLength="6.26" lengthAdjust="spacingAndGlyphs">20</text>
<line x1="29.55" y1="264.76" x2="31.05" y2="264.76" stroke="#3a3a3a" stroke-width="0.8"/>
<text x="25.30" y="267.41" font-family="Liberation Serif" font-size="7.2" font-weight="bold" fill="#000" text-anchor="end" stroke="#000" stroke-width="0.22" textLength="6.26" lengthAdjust="spacingAndGlyphs">40</text>
<line x1="29.55" y1="247.64" x2="31.05" y2="247.64" stroke="#3a3a3a" stroke-width="0.8"/>
<text x="25.30" y="250.29" font-family="Liberation Serif" font-size="7.2" font-weight="bold" fill="#000" text-anchor="end" stroke="#000" stroke-width="0.22" textLength="6.26" lengthAdjust="spacingAndGlyphs">60</text>
<line x1="29.55" y1="230.52" x2="31.05" y2="230.52" stroke="#3a3a3a" stroke-width="0.8"/>
<text x="25.30" y="233.17" font-family="Liberation Serif" font-size="7.2" font-weight="bold" fill="#000" text-anchor="end" stroke="#000" stroke-width="0.22" textLength="6.26" lengthAdjust="spacingAndGlyphs">80</text>
<line x1="29.55" y1="213.40" x2="31.05" y2="213.40" stroke="#3a3a3a" stroke-width="0.8"/>
<text x="25.30" y="216.05" font-family="Liberation Serif" font-size="7.2" font-weight="bold" fill="#000" text-anchor="end" stroke="#000" stroke-width="0.22" textLength="9.40" lengthAdjust="spacingAndGlyphs">100</text>
<line x1="31.00" y1="302.90" x2="31.00" y2="304.20" stroke="#3a3a3a" stroke-width="0.8"/>
<text x="31.00" y="314.68" font-family="Liberation Serif" font-size="7.2" font-weight="bold" fill="#000" text-anchor="middle" stroke="#000" stroke-width="0.22" textLength="3.13" lengthAdjust="spacingAndGlyphs">0</text>
<line x1="55.88" y1="302.90" x2="55.88" y2="304.20" stroke="#3a3a3a" stroke-width="0.8"/>
<text x="55.88" y="314.68" font-family="Liberation Serif" font-size="7.2" font-weight="bold" fill="#000" text-anchor="middle" stroke="#000" stroke-width="0.22" textLength="3.13" lengthAdjust="spacingAndGlyphs">5</text>
<line x1="80.76" y1="302.90" x2="80.76" y2="304.20" stroke="#3a3a3a" stroke-width="0.8"/>
<text x="80.76" y="314.68" font-family="Liberation Serif" font-size="7.2" font-weight="bold" fill="#000" text-anchor="middle" stroke="#000" stroke-width="0.22" textLength="6.26" lengthAdjust="spacingAndGlyphs">10</text>
<line x1="105.64" y1="302.90" x2="105.64" y2="304.20" stroke="#3a3a3a" stroke-width="0.8"/>
<text x="105.64" y="314.68" font-family="Liberation Serif" font-size="7.2" font-weight="bold" fill="#000" text-anchor="middle" stroke="#000" stroke-width="0.22" textLength="6.26" lengthAdjust="spacingAndGlyphs">15</text>
<line x1="130.52" y1="302.90" x2="130.52" y2="304.20" stroke="#3a3a3a" stroke-width="0.8"/>
<text x="130.52" y="314.68" font-family="Liberation Serif" font-size="7.2" font-weight="bold" fill="#000" text-anchor="middle" stroke="#000" stroke-width="0.22" textLength="6.26" lengthAdjust="spacingAndGlyphs">20</text>
<line x1="155.40" y1="302.90" x2="155.40" y2="304.20" stroke="#3a3a3a" stroke-width="0.8"/>
<text x="155.40" y="314.68" font-family="Liberation Serif" font-size="7.2" font-weight="bold" fill="#000" text-anchor="middle" stroke="#000" stroke-width="0.22" textLength="6.26" lengthAdjust="spacingAndGlyphs">25</text>
<text x="79.60" y="324.10" font-family="Liberation Serif" font-size="7.6" font-weight="bold" fill="#000" text-anchor="start" stroke="#000" stroke-width="0.3" textLength="22.80" lengthAdjust="spacingAndGlyphs">E/T ratio</text>
<text x="11.70" y="257.70" transform="rotate(-90 11.70 257.70)" font-family="Liberation Serif" font-size="7.9" font-weight="bold" fill="#000" text-anchor="middle" stroke="#000" stroke-width="0.3" textLength="56.50" lengthAdjust="spacingAndGlyphs">Specific lysis (%)</text>
<polyline points="35.98,299.00 55.88,299.00 80.76,299.00 105.64,299.00 130.52,290.01" fill="none" stroke="#248e2e" stroke-width="1.35" stroke-linejoin="round"/>
<line x1="130.52" y1="292.15" x2="130.52" y2="287.87" stroke="#505050" stroke-width="1.0"/>
<line x1="129.42" y1="292.15" x2="131.62" y2="292.15" stroke="#505050" stroke-width="1.0"/>
<line x1="129.42" y1="287.87" x2="131.62" y2="287.87" stroke="#505050" stroke-width="1.0"/>
<polygon points="34.36,297.79 37.59,297.79 35.98,300.62" fill="#0a3a10"/>
<polygon points="54.26,297.79 57.49,297.79 55.88,300.62" fill="#0a3a10"/>
<polygon points="79.14,297.79 82.37,297.79 80.76,300.62" fill="#0a3a10"/>
<polygon points="104.03,297.79 107.25,297.79 105.64,300.62" fill="#0a3a10"/>
<polygon points="128.90,288.80 132.13,288.80 130.52,291.63" fill="#0a3a10"/>
<polyline points="35.98,281.02 55.88,270.75 80.76,263.90 105.64,242.50 130.52,215.97" fill="none" stroke="#d23c5a" stroke-width="1.35" stroke-linejoin="round"/>
<line x1="35.98" y1="282.74" x2="35.98" y2="279.31" stroke="#505050" stroke-width="1.0"/>
<line x1="34.88" y1="282.74" x2="37.08" y2="282.74" stroke="#505050" stroke-width="1.0"/>
<line x1="34.88" y1="279.31" x2="37.08" y2="279.31" stroke="#505050" stroke-width="1.0"/>
<line x1="55.88" y1="273.32" x2="55.88" y2="268.18" stroke="#505050" stroke-width="1.0"/>
<line x1="54.78" y1="273.32" x2="56.98" y2="273.32" stroke="#505050" stroke-width="1.0"/>
<line x1="54.78" y1="268.18" x2="56.98" y2="268.18" stroke="#505050" stroke-width="1.0"/>
<line x1="80.76" y1="267.33" x2="80.76" y2="260.48" stroke="#505050" stroke-width="1.0"/>
<line x1="79.66" y1="267.33" x2="81.86" y2="267.33" stroke="#505050" stroke-width="1.0"/>
<line x1="79.66" y1="260.48" x2="81.86" y2="260.48" stroke="#505050" stroke-width="1.0"/>
<line x1="105.64" y1="246.78" x2="105.64" y2="238.22" stroke="#505050" stroke-width="1.0"/>
<line x1="104.54" y1="246.78" x2="106.74" y2="246.78" stroke="#505050" stroke-width="1.0"/>
<line x1="104.54" y1="238.22" x2="106.74" y2="238.22" stroke="#505050" stroke-width="1.0"/>
<line x1="130.52" y1="219.39" x2="130.52" y2="212.54" stroke="#505050" stroke-width="1.0"/>
<line x1="129.42" y1="219.39" x2="131.62" y2="219.39" stroke="#505050" stroke-width="1.0"/>
<line x1="129.42" y1="212.54" x2="131.62" y2="212.54" stroke="#505050" stroke-width="1.0"/>
<circle cx="35.98" cy="281.02" r="1.19" fill="#b04060" stroke="#5a0c24" stroke-width="0.77"/>
<circle cx="55.88" cy="270.75" r="1.19" fill="#b04060" stroke="#5a0c24" stroke-width="0.77"/>
<circle cx="80.76" cy="263.90" r="1.19" fill="#b04060" stroke="#5a0c24" stroke-width="0.77"/>
<circle cx="105.64" cy="242.50" r="1.19" fill="#b04060" stroke="#5a0c24" stroke-width="0.77"/>
<circle cx="130.52" cy="215.97" r="1.19" fill="#b04060" stroke="#5a0c24" stroke-width="0.77"/>
<polyline points="35.98,281.02 55.88,269.04 80.76,259.62 105.64,239.08 130.52,214.26" fill="none" stroke="#111111" stroke-width="1.35" stroke-linejoin="round"/>
<line x1="35.98" y1="282.74" x2="35.98" y2="279.31" stroke="#505050" stroke-width="1.0"/>
<line x1="34.88" y1="282.74" x2="37.08" y2="282.74" stroke="#505050" stroke-width="1.0"/>
<line x1="34.88" y1="279.31" x2="37.08" y2="279.31" stroke="#505050" stroke-width="1.0"/>
<line x1="55.88" y1="271.61" x2="55.88" y2="266.47" stroke="#505050" stroke-width="1.0"/>
<line x1="54.78" y1="271.61" x2="56.98" y2="271.61" stroke="#505050" stroke-width="1.0"/>
<line x1="54.78" y1="266.47" x2="56.98" y2="266.47" stroke="#505050" stroke-width="1.0"/>
<line x1="80.76" y1="262.19" x2="80.76" y2="257.06" stroke="#505050" stroke-width="1.0"/>
<line x1="79.66" y1="262.19" x2="81.86" y2="262.19" stroke="#505050" stroke-width="1.0"/>
<line x1="79.66" y1="257.06" x2="81.86" y2="257.06" stroke="#505050" stroke-width="1.0"/>
<line x1="105.64" y1="243.36" x2="105.64" y2="234.80" stroke="#505050" stroke-width="1.0"/>
<line x1="104.54" y1="243.36" x2="106.74" y2="243.36" stroke="#505050" stroke-width="1.0"/>
<line x1="104.54" y1="234.80" x2="106.74" y2="234.80" stroke="#505050" stroke-width="1.0"/>
<line x1="130.52" y1="215.97" x2="130.52" y2="212.54" stroke="#505050" stroke-width="1.0"/>
<line x1="129.42" y1="215.97" x2="131.62" y2="215.97" stroke="#505050" stroke-width="1.0"/>
<line x1="129.42" y1="212.54" x2="131.62" y2="212.54" stroke="#505050" stroke-width="1.0"/>
<circle cx="35.98" cy="281.02" r="1.53" fill="#000"/>
<circle cx="55.88" cy="269.04" r="1.53" fill="#000"/>
<circle cx="80.76" cy="259.62" r="1.53" fill="#000"/>
<circle cx="105.64" cy="239.08" r="1.53" fill="#000"/>
<circle cx="130.52" cy="214.26" r="1.53" fill="#000"/>
<line x1="31.80" y1="186.30" x2="45.50" y2="186.30" stroke="#111111" stroke-width="1.25"/>
<circle cx="38.65" cy="186.30" r="2.07" fill="#000"/>
<text x="53.10" y="188.80" font-family="Liberation Serif" font-size="7.4" font-weight="bold" fill="#000" text-anchor="start" stroke="#000" stroke-width="0.3" textLength="93.40" lengthAdjust="spacingAndGlyphs">CTL/d35 vs DA1-3b + anti-FAS-L</text>
<line x1="31.80" y1="196.00" x2="45.50" y2="196.00" stroke="#d23c5a" stroke-width="1.25"/>
<circle cx="38.65" cy="196.00" r="1.61" fill="#b04060" stroke="#5a0c24" stroke-width="1.03"/>
<text x="53.10" y="198.70" font-family="Liberation Serif" font-size="7.4" font-weight="bold" fill="#000" text-anchor="start" stroke="#000" stroke-width="0.3" textLength="96.40" lengthAdjust="spacingAndGlyphs" style="white-space:pre">CTL/d35 vs DA1-3b +  anti-TRAIL</text>
<line x1="31.80" y1="205.40" x2="45.50" y2="205.40" stroke="#248e2e" stroke-width="1.25"/>
<polygon points="36.46,203.76 40.84,203.76 38.65,207.59" fill="#0a3a10"/>
<text x="53.10" y="207.60" font-family="Liberation Serif" font-size="7.4" font-weight="bold" fill="#000" text-anchor="start" stroke="#000" stroke-width="0.3" textLength="76.40" lengthAdjust="spacingAndGlyphs">CTL/d35 vs DA1-3b +CMA</text>
<text x="178.10" y="164.50" font-family="Liberation Sans" font-size="13" font-weight="bold" fill="#000" text-anchor="start" stroke="#000" stroke-width="0.3">E</text>
<line x1="209.30" y1="219.20" x2="209.30" y2="307.10" stroke="#3a3a3a" stroke-width="1.0"/>
<line x1="208.80" y1="306.60" x2="330.40" y2="306.60" stroke="#3a3a3a" stroke-width="1.0"/>
<line x1="207.80" y1="306.70" x2="209.30" y2="306.70" stroke="#3a3a3a" stroke-width="0.8"/>
<text x="203.50" y="309.35" font-family="Liberation Serif" font-size="7.2" font-weight="bold" fill="#000" text-anchor="end" stroke="#000" stroke-width="0.22" textLength="3.13" lengthAdjust="spacingAndGlyphs">0</text>
<line x1="207.80" y1="289.36" x2="209.30" y2="289.36" stroke="#3a3a3a" stroke-width="0.8"/>
<text x="203.50" y="292.01" font-family="Liberation Serif" font-size="7.2" font-weight="bold" fill="#000" text-anchor="end" stroke="#000" stroke-width="0.22" textLength="6.26" lengthAdjust="spacingAndGlyphs">20</text>
<line x1="207.80" y1="272.02" x2="209.30" y2="272.02" stroke="#3a3a3a" stroke-width="0.8"/>
<text x="203.50" y="274.67" font-family="Liberation Serif" font-size="7.2" font-weight="bold" fill="#000" text-anchor="end" stroke="#000" stroke-width="0.22" textLength="6.26" lengthAdjust="spacingAndGlyphs">40</text>
<line x1="207.80" y1="254.68" x2="209.30" y2="254.68" stroke="#3a3a3a" stroke-width="0.8"/>
<text x="203.50" y="257.33" font-family="Liberation Serif" font-size="7.2" font-weight="bold" fill="#000" text-anchor="end" stroke="#000" stroke-width="0.22" textLength="6.26" lengthAdjust="spacingAndGlyphs">60</text>
<line x1="207.80" y1="237.34" x2="209.30" y2="237.34" stroke="#3a3a3a" stroke-width="0.8"/>
<text x="203.50" y="239.99" font-family="Liberation Serif" font-size="7.2" font-weight="bold" fill="#000" text-anchor="end" stroke="#000" stroke-width="0.22" textLength="6.26" lengthAdjust="spacingAndGlyphs">80</text>
<line x1="207.80" y1="220.00" x2="209.30" y2="220.00" stroke="#3a3a3a" stroke-width="0.8"/>
<text x="203.50" y="222.65" font-family="Liberation Serif" font-size="7.2" font-weight="bold" fill="#000" text-anchor="end" stroke="#000" stroke-width="0.22" textLength="9.40" lengthAdjust="spacingAndGlyphs">100</text>
<line x1="209.10" y1="306.60" x2="209.10" y2="307.90" stroke="#3a3a3a" stroke-width="0.8"/>
<text x="209.10" y="318.38" font-family="Liberation Serif" font-size="7.2" font-weight="bold" fill="#000" text-anchor="middle" stroke="#000" stroke-width="0.22" textLength="3.13" lengthAdjust="spacingAndGlyphs">0</text>
<line x1="233.20" y1="306.60" x2="233.20" y2="307.90" stroke="#3a3a3a" stroke-width="0.8"/>
<text x="233.20" y="318.38" font-family="Liberation Serif" font-size="7.2" font-weight="bold" fill="#000" text-anchor="middle" stroke="#000" stroke-width="0.22" textLength="3.13" lengthAdjust="spacingAndGlyphs">5</text>
<line x1="257.30" y1="306.60" x2="257.30" y2="307.90" stroke="#3a3a3a" stroke-width="0.8"/>
<text x="257.30" y="318.38" font-family="Liberation Serif" font-size="7.2" font-weight="bold" fill="#000" text-anchor="middle" stroke="#000" stroke-width="0.22" textLength="6.26" lengthAdjust="spacingAndGlyphs">10</text>
<line x1="281.40" y1="306.60" x2="281.40" y2="307.90" stroke="#3a3a3a" stroke-width="0.8"/>
<text x="281.40" y="318.38" font-family="Liberation Serif" font-size="7.2" font-weight="bold" fill="#000" text-anchor="middle" stroke="#000" stroke-width="0.22" textLength="6.26" lengthAdjust="spacingAndGlyphs">15</text>
<line x1="305.50" y1="306.60" x2="305.50" y2="307.90" stroke="#3a3a3a" stroke-width="0.8"/>
<text x="305.50" y="318.38" font-family="Liberation Serif" font-size="7.2" font-weight="bold" fill="#000" text-anchor="middle" stroke="#000" stroke-width="0.22" textLength="6.26" lengthAdjust="spacingAndGlyphs">20</text>
<line x1="329.60" y1="306.60" x2="329.60" y2="307.90" stroke="#3a3a3a" stroke-width="0.8"/>
<text x="329.60" y="318.38" font-family="Liberation Serif" font-size="7.2" font-weight="bold" fill="#000" text-anchor="middle" stroke="#000" stroke-width="0.22" textLength="6.26" lengthAdjust="spacingAndGlyphs">25</text>
<text x="247.60" y="328.10" font-family="Liberation Serif" font-size="7.6" font-weight="bold" fill="#000" text-anchor="start" stroke="#000" stroke-width="0.3" textLength="22.80" lengthAdjust="spacingAndGlyphs">E/T ratio</text>
<text x="189.80" y="264.40" transform="rotate(-90 189.80 264.40)" font-family="Liberation Serif" font-size="7.9" font-weight="bold" fill="#000" text-anchor="middle" stroke="#000" stroke-width="0.3" textLength="56.50" lengthAdjust="spacingAndGlyphs">Specific lysis (%)</text>
<polyline points="213.97,303.23 233.45,299.76 257.80,295.43 282.15,290.23 306.50,285.89" fill="none" stroke="#e070e0" stroke-width="1.35" stroke-linejoin="round"/>
<line x1="213.97" y1="304.10" x2="213.97" y2="302.37" stroke="#505050" stroke-width="1.0"/>
<line x1="212.87" y1="304.10" x2="215.07" y2="304.10" stroke="#505050" stroke-width="1.0"/>
<line x1="212.87" y1="302.37" x2="215.07" y2="302.37" stroke="#505050" stroke-width="1.0"/>
<line x1="233.45" y1="300.63" x2="233.45" y2="298.90" stroke="#505050" stroke-width="1.0"/>
<line x1="232.35" y1="300.63" x2="234.55" y2="300.63" stroke="#505050" stroke-width="1.0"/>
<line x1="232.35" y1="298.90" x2="234.55" y2="298.90" stroke="#505050" stroke-width="1.0"/>
<line x1="257.80" y1="296.30" x2="257.80" y2="294.56" stroke="#505050" stroke-width="1.0"/>
<line x1="256.70" y1="296.30" x2="258.90" y2="296.30" stroke="#505050" stroke-width="1.0"/>
<line x1="256.70" y1="294.56" x2="258.90" y2="294.56" stroke="#505050" stroke-width="1.0"/>
<line x1="282.15" y1="291.96" x2="282.15" y2="288.49" stroke="#505050" stroke-width="1.0"/>
<line x1="281.05" y1="291.96" x2="283.25" y2="291.96" stroke="#505050" stroke-width="1.0"/>
<line x1="281.05" y1="288.49" x2="283.25" y2="288.49" stroke="#505050" stroke-width="1.0"/>
<line x1="306.50" y1="286.76" x2="306.50" y2="285.02" stroke="#505050" stroke-width="1.0"/>
<line x1="305.40" y1="286.76" x2="307.60" y2="286.76" stroke="#505050" stroke-width="1.0"/>
<line x1="305.40" y1="285.02" x2="307.60" y2="285.02" stroke="#505050" stroke-width="1.0"/>
<rect x="212.78" y="302.04" width="2.38" height="2.38" fill="#a040a0" stroke="#3c0c3c" stroke-width="0.77"/>
<rect x="232.26" y="298.57" width="2.38" height="2.38" fill="#a040a0" stroke="#3c0c3c" stroke-width="0.77"/>
<rect x="256.61" y="294.24" width="2.38" height="2.38" fill="#a040a0" stroke="#3c0c3c" stroke-width="0.77"/>
<rect x="280.96" y="289.04" width="2.38" height="2.38" fill="#a040a0" stroke="#3c0c3c" stroke-width="0.77"/>
<rect x="305.31" y="284.70" width="2.38" height="2.38" fill="#a040a0" stroke="#3c0c3c" stroke-width="0.77"/>
<polyline points="213.97,300.63 233.45,298.03 257.80,289.36 282.15,282.42 306.50,277.22" fill="none" stroke="#1c2378" stroke-width="1.35" stroke-linejoin="round"/>
<line x1="213.97" y1="301.50" x2="213.97" y2="299.76" stroke="#505050" stroke-width="1.0"/>
<line x1="212.87" y1="301.50" x2="215.07" y2="301.50" stroke="#505050" stroke-width="1.0"/>
<line x1="212.87" y1="299.76" x2="215.07" y2="299.76" stroke="#505050" stroke-width="1.0"/>
<line x1="233.45" y1="298.90" x2="233.45" y2="297.16" stroke="#505050" stroke-width="1.0"/>
<line x1="232.35" y1="298.90" x2="234.55" y2="298.90" stroke="#505050" stroke-width="1.0"/>
<line x1="232.35" y1="297.16" x2="234.55" y2="297.16" stroke="#505050" stroke-width="1.0"/>
<line x1="257.80" y1="291.09" x2="257.80" y2="287.63" stroke="#505050" stroke-width="1.0"/>
<line x1="256.70" y1="291.09" x2="258.90" y2="291.09" stroke="#505050" stroke-width="1.0"/>
<line x1="256.70" y1="287.63" x2="258.90" y2="287.63" stroke="#505050" stroke-width="1.0"/>
<line x1="282.15" y1="285.02" x2="282.15" y2="279.82" stroke="#505050" stroke-width="1.0"/>
<line x1="281.05" y1="285.02" x2="283.25" y2="285.02" stroke="#505050" stroke-width="1.0"/>
<line x1="281.05" y1="279.82" x2="283.25" y2="279.82" stroke="#505050" stroke-width="1.0"/>
<line x1="306.50" y1="279.82" x2="306.50" y2="274.62" stroke="#505050" stroke-width="1.0"/>
<line x1="305.40" y1="279.82" x2="307.60" y2="279.82" stroke="#505050" stroke-width="1.0"/>
<line x1="305.40" y1="274.62" x2="307.60" y2="274.62" stroke="#505050" stroke-width="1.0"/>
<rect x="212.61" y="299.27" width="2.72" height="2.72" fill="#12164a"/>
<rect x="232.09" y="296.67" width="2.72" height="2.72" fill="#12164a"/>
<rect x="256.44" y="288.00" width="2.72" height="2.72" fill="#12164a"/>
<rect x="280.79" y="281.06" width="2.72" height="2.72" fill="#12164a"/>
<rect x="305.14" y="275.86" width="2.72" height="2.72" fill="#12164a"/>
<polyline points="213.97,298.03 233.45,294.56 257.80,284.16 282.15,278.09 306.50,270.29" fill="none" stroke="#f2ee8a" stroke-width="1.35" stroke-linejoin="round"/>
<line x1="213.97" y1="298.90" x2="213.97" y2="297.16" stroke="#505050" stroke-width="1.0"/>
<line x1="212.87" y1="298.90" x2="215.07" y2="298.90" stroke="#505050" stroke-width="1.0"/>
<line x1="212.87" y1="297.16" x2="215.07" y2="297.16" stroke="#505050" stroke-width="1.0"/>
<line x1="233.45" y1="296.30" x2="233.45" y2="292.83" stroke="#505050" stroke-width="1.0"/>
<line x1="232.35" y1="296.30" x2="234.55" y2="296.30" stroke="#505050" stroke-width="1.0"/>
<line x1="232.35" y1="292.83" x2="234.55" y2="292.83" stroke="#505050" stroke-width="1.0"/>
<line x1="257.80" y1="285.89" x2="257.80" y2="282.42" stroke="#505050" stroke-width="1.0"/>
<line x1="256.70" y1="285.89" x2="258.90" y2="285.89" stroke="#505050" stroke-width="1.0"/>
<line x1="256.70" y1="282.42" x2="258.90" y2="282.42" stroke="#505050" stroke-width="1.0"/>
<line x1="282.15" y1="280.69" x2="282.15" y2="275.49" stroke="#505050" stroke-width="1.0"/>
<line x1="281.05" y1="280.69" x2="283.25" y2="280.69" stroke="#505050" stroke-width="1.0"/>
<line x1="281.05" y1="275.49" x2="283.25" y2="275.49" stroke="#505050" stroke-width="1.0"/>
<line x1="306.50" y1="272.89" x2="306.50" y2="267.69" stroke="#505050" stroke-width="1.0"/>
<line x1="305.40" y1="272.89" x2="307.60" y2="272.89" stroke="#505050" stroke-width="1.0"/>
<line x1="305.40" y1="267.69" x2="307.60" y2="267.69" stroke="#505050" stroke-width="1.0"/>
<polygon points="212.35,296.82 215.59,296.82 213.97,299.64" fill="#b8b040" stroke="#1e1e00" stroke-width="0.68"/>
<polygon points="231.83,293.35 235.06,293.35 233.45,296.18" fill="#b8b040" stroke="#1e1e00" stroke-width="0.68"/>
<polygon points="256.19,282.95 259.42,282.95 257.80,285.77" fill="#b8b040" stroke="#1e1e00" stroke-width="0.68"/>
<polygon points="280.53,276.88 283.76,276.88 282.15,279.70" fill="#b8b040" stroke="#1e1e00" stroke-width="0.68"/>
<polygon points="304.88,269.07 308.12,269.07 306.50,271.90" fill="#b8b040" stroke="#1e1e00" stroke-width="0.68"/>
<polyline points="213.97,296.30 233.45,291.09 257.80,279.82 282.15,266.82 306.50,253.81" fill="none" stroke="#248e2e" stroke-width="1.35" stroke-linejoin="round"/>
<line x1="213.97" y1="297.16" x2="213.97" y2="295.43" stroke="#505050" stroke-width="1.0"/>
<line x1="212.87" y1="297.16" x2="215.07" y2="297.16" stroke="#505050" stroke-width="1.0"/>
<line x1="212.87" y1="295.43" x2="215.07" y2="295.43" stroke="#505050" stroke-width="1.0"/>
<line x1="233.45" y1="292.83" x2="233.45" y2="289.36" stroke="#505050" stroke-width="1.0"/>
<line x1="232.35" y1="292.83" x2="234.55" y2="292.83" stroke="#505050" stroke-width="1.0"/>
<line x1="232.35" y1="289.36" x2="234.55" y2="289.36" stroke="#505050" stroke-width="1.0"/>
<line x1="257.80" y1="281.56" x2="257.80" y2="278.09" stroke="#505050" stroke-width="1.0"/>
<line x1="256.70" y1="281.56" x2="258.90" y2="281.56" stroke="#505050" stroke-width="1.0"/>
<line x1="256.70" y1="278.09" x2="258.90" y2="278.09" stroke="#505050" stroke-width="1.0"/>
<line x1="282.15" y1="268.55" x2="282.15" y2="265.08" stroke="#505050" stroke-width="1.0"/>
<line x1="281.05" y1="268.55" x2="283.25" y2="268.55" stroke="#505050" stroke-width="1.0"/>
<line x1="281.05" y1="265.08" x2="283.25" y2="265.08" stroke="#505050" stroke-width="1.0"/>
<line x1="306.50" y1="256.41" x2="306.50" y2="251.21" stroke="#505050" stroke-width="1.0"/>
<line x1="305.40" y1="256.41" x2="307.60" y2="256.41" stroke="#505050" stroke-width="1.0"/>
<line x1="305.40" y1="251.21" x2="307.60" y2="251.21" stroke="#505050" stroke-width="1.0"/>
<polygon points="212.35,295.08 215.59,295.08 213.97,297.91" fill="#0a3a10"/>
<polygon points="231.83,289.88 235.06,289.88 233.45,292.71" fill="#0a3a10"/>
<polygon points="256.19,278.61 259.42,278.61 257.80,281.44" fill="#0a3a10"/>
<polygon points="280.53,265.61 283.76,265.61 282.15,268.43" fill="#0a3a10"/>
<polygon points="304.88,252.60 308.12,252.60 306.50,255.43" fill="#0a3a10"/>
<polyline points="213.97,293.69 233.45,285.89 257.80,273.75 282.15,262.48 306.50,223.47" fill="none" stroke="#d23c5a" stroke-width="1.35" stroke-linejoin="round"/>
<line x1="213.97" y1="294.56" x2="213.97" y2="292.83" stroke="#505050" stroke-width="1.0"/>
<line x1="212.87" y1="294.56" x2="215.07" y2="294.56" stroke="#505050" stroke-width="1.0"/>
<line x1="212.87" y1="292.83" x2="215.07" y2="292.83" stroke="#505050" stroke-width="1.0"/>
<line x1="233.45" y1="287.63" x2="233.45" y2="284.16" stroke="#505050" stroke-width="1.0"/>
<line x1="232.35" y1="287.63" x2="234.55" y2="287.63" stroke="#505050" stroke-width="1.0"/>
<line x1="232.35" y1="284.16" x2="234.55" y2="284.16" stroke="#505050" stroke-width="1.0"/>
<line x1="257.80" y1="275.49" x2="257.80" y2="272.02" stroke="#505050" stroke-width="1.0"/>
<line x1="256.70" y1="275.49" x2="258.90" y2="275.49" stroke="#505050" stroke-width="1.0"/>
<line x1="256.70" y1="272.02" x2="258.90" y2="272.02" stroke="#505050" stroke-width="1.0"/>
<line x1="282.15" y1="265.08" x2="282.15" y2="259.88" stroke="#505050" stroke-width="1.0"/>
<line x1="281.05" y1="265.08" x2="283.25" y2="265.08" stroke="#505050" stroke-width="1.0"/>
<line x1="281.05" y1="259.88" x2="283.25" y2="259.88" stroke="#505050" stroke-width="1.0"/>
<line x1="306.50" y1="225.20" x2="306.50" y2="221.73" stroke="#505050" stroke-width="1.0"/>
<line x1="305.40" y1="225.20" x2="307.60" y2="225.20" stroke="#505050" stroke-width="1.0"/>
<line x1="305.40" y1="221.73" x2="307.60" y2="221.73" stroke="#505050" stroke-width="1.0"/>
<circle cx="213.97" cy="293.69" r="1.19" fill="#b04060" stroke="#5a0c24" stroke-width="0.77"/>
<circle cx="233.45" cy="285.89" r="1.19" fill="#b04060" stroke="#5a0c24" stroke-width="0.77"/>
<circle cx="257.80" cy="273.75" r="1.19" fill="#b04060" stroke="#5a0c24" stroke-width="0.77"/>
<circle cx="282.15" cy="262.48" r="1.19" fill="#b04060" stroke="#5a0c24" stroke-width="0.77"/>
<circle cx="306.50" cy="223.47" r="1.19" fill="#b04060" stroke="#5a0c24" stroke-width="0.77"/>
<polyline points="213.97,284.16 233.45,280.69 257.80,266.82 282.15,246.01 306.50,220.87" fill="none" stroke="#111111" stroke-width="1.35" stroke-linejoin="round"/>
<line x1="213.97" y1="285.89" x2="213.97" y2="282.42" stroke="#505050" stroke-width="1.0"/>
<line x1="212.87" y1="285.89" x2="215.07" y2="285.89" stroke="#505050" stroke-width="1.0"/>
<line x1="212.87" y1="282.42" x2="215.07" y2="282.42" stroke="#505050" stroke-width="1.0"/>
<line x1="233.45" y1="283.29" x2="233.45" y2="278.09" stroke="#505050" stroke-width="1.0"/>
<line x1="232.35" y1="283.29" x2="234.55" y2="283.29" stroke="#505050" stroke-width="1.0"/>
<line x1="232.35" y1="278.09" x2="234.55" y2="278.09" stroke="#505050" stroke-width="1.0"/>
<line x1="257.80" y1="267.69" x2="257.80" y2="265.95" stroke="#505050" stroke-width="1.0"/>
<line x1="256.70" y1="267.69" x2="258.90" y2="267.69" stroke="#505050" stroke-width="1.0"/>
<line x1="256.70" y1="265.95" x2="258.90" y2="265.95" stroke="#505050" stroke-width="1.0"/>
<line x1="282.15" y1="248.61" x2="282.15" y2="243.41" stroke="#505050" stroke-width="1.0"/>
<line x1="281.05" y1="248.61" x2="283.25" y2="248.61" stroke="#505050" stroke-width="1.0"/>
<line x1="281.05" y1="243.41" x2="283.25" y2="243.41" stroke="#505050" stroke-width="1.0"/>
<line x1="306.50" y1="221.73" x2="306.50" y2="220.00" stroke="#505050" stroke-width="1.0"/>
<line x1="305.40" y1="221.73" x2="307.60" y2="221.73" stroke="#505050" stroke-width="1.0"/>
<line x1="305.40" y1="220.00" x2="307.60" y2="220.00" stroke="#505050" stroke-width="1.0"/>
<circle cx="213.97" cy="284.16" r="1.53" fill="#000"/>
<circle cx="233.45" cy="280.69" r="1.53" fill="#000"/>
<circle cx="257.80" cy="266.82" r="1.53" fill="#000"/>
<circle cx="282.15" cy="246.01" r="1.53" fill="#000"/>
<circle cx="306.50" cy="220.87" r="1.53" fill="#000"/>
<line x1="209.90" y1="159.10" x2="223.50" y2="159.10" stroke="#111111" stroke-width="1.25"/>
<circle cx="216.70" cy="159.10" r="2.07" fill="#000"/>
<text x="234.10" y="162.20" font-family="Liberation Serif" font-size="7.8" font-weight="bold" fill="#000" text-anchor="start" stroke="#000" stroke-width="0.3" textLength="60.99" lengthAdjust="spacingAndGlyphs">CTL/d35 vs DA1-3b</text>
<line x1="209.90" y1="169.50" x2="223.50" y2="169.50" stroke="#d23c5a" stroke-width="1.25"/>
<circle cx="216.70" cy="169.50" r="1.61" fill="#b04060" stroke="#5a0c24" stroke-width="1.03"/>
<text x="234.10" y="172.60" font-family="Liberation Serif" font-size="7.8" font-weight="bold" fill="#000" text-anchor="start" stroke="#000" stroke-width="0.3" textLength="73.96" lengthAdjust="spacingAndGlyphs">CTL/d35 vs DA1-3b/d35</text>
<line x1="209.90" y1="179.80" x2="223.50" y2="179.80" stroke="#248e2e" stroke-width="1.25"/>
<polygon points="214.51,178.16 218.88,178.16 216.70,181.99" fill="#0a3a10"/>
<text x="234.10" y="182.90" font-family="Liberation Serif" font-size="7.8" font-weight="bold" fill="#000" text-anchor="start" stroke="#000" stroke-width="0.3" textLength="73.96" lengthAdjust="spacingAndGlyphs">CTL/d35 vs DA1-3b/d60</text>
<line x1="209.90" y1="190.60" x2="223.50" y2="190.60" stroke="#f2ee8a" stroke-width="1.25"/>
<polygon points="214.51,188.96 218.88,188.96 216.70,192.78" fill="#b8b040" stroke="#1e1e00" stroke-width="0.92"/>
<text x="234.10" y="193.70" font-family="Liberation Serif" font-size="7.8" font-weight="bold" fill="#000" text-anchor="start" stroke="#000" stroke-width="0.3" textLength="73.96" lengthAdjust="spacingAndGlyphs">CTL/d35 vs DA1-3b/d90</text>
<line x1="209.90" y1="201.20" x2="223.50" y2="201.20" stroke="#1c2378" stroke-width="1.25"/>
<rect x="214.86" y="199.36" width="3.68" height="3.68" fill="#12164a"/>
<text x="234.10" y="204.30" font-family="Liberation Serif" font-size="7.8" font-weight="bold" fill="#000" text-anchor="start" stroke="#000" stroke-width="0.3" textLength="77.50" lengthAdjust="spacingAndGlyphs">CTL/d35 vs DA1-3b/d120</text>
<line x1="209.90" y1="211.80" x2="223.50" y2="211.80" stroke="#e070e0" stroke-width="1.25"/>
<rect x="215.09" y="210.19" width="3.22" height="3.22" fill="#a040a0" stroke="#3c0c3c" stroke-width="1.03"/>
<text x="234.10" y="214.90" font-family="Liberation Serif" font-size="7.8" font-weight="bold" fill="#000" text-anchor="start" stroke="#000" stroke-width="0.3" textLength="77.50" lengthAdjust="spacingAndGlyphs">CTL/d35 vs DA1-3b/d365</text>
<text x="363.30" y="164.50" font-family="Liberation Sans" font-size="13" font-weight="bold" fill="#000" text-anchor="start" stroke="#000" stroke-width="0.3">F</text>
<line x1="390.85" y1="219.40" x2="390.85" y2="307.70" stroke="#3a3a3a" stroke-width="1.0"/>
<line x1="390.35" y1="307.20" x2="512.80" y2="307.20" stroke="#3a3a3a" stroke-width="1.0"/>
<line x1="389.35" y1="307.20" x2="390.85" y2="307.20" stroke="#3a3a3a" stroke-width="0.8"/>
<text x="385.40" y="309.85" font-family="Liberation Serif" font-size="7.2" font-weight="bold" fill="#000" text-anchor="end" stroke="#000" stroke-width="0.22" textLength="3.13" lengthAdjust="spacingAndGlyphs">0</text>
<line x1="389.35" y1="289.64" x2="390.85" y2="289.64" stroke="#3a3a3a" stroke-width="0.8"/>
<text x="385.40" y="292.29" font-family="Liberation Serif" font-size="7.2" font-weight="bold" fill="#000" text-anchor="end" stroke="#000" stroke-width="0.22" textLength="6.26" lengthAdjust="spacingAndGlyphs">20</text>
<line x1="389.35" y1="272.08" x2="390.85" y2="272.08" stroke="#3a3a3a" stroke-width="0.8"/>
<text x="385.40" y="274.73" font-family="Liberation Serif" font-size="7.2" font-weight="bold" fill="#000" text-anchor="end" stroke="#000" stroke-width="0.22" textLength="6.26" lengthAdjust="spacingAndGlyphs">40</text>
<line x1="389.35" y1="254.52" x2="390.85" y2="254.52" stroke="#3a3a3a" stroke-width="0.8"/>
<text x="385.40" y="257.17" font-family="Liberation Serif" font-size="7.2" font-weight="bold" fill="#000" text-anchor="end" stroke="#000" stroke-width="0.22" textLength="6.26" lengthAdjust="spacingAndGlyphs">60</text>
<line x1="389.35" y1="236.96" x2="390.85" y2="236.96" stroke="#3a3a3a" stroke-width="0.8"/>
<text x="385.40" y="239.61" font-family="Liberation Serif" font-size="7.2" font-weight="bold" fill="#000" text-anchor="end" stroke="#000" stroke-width="0.22" textLength="6.26" lengthAdjust="spacingAndGlyphs">80</text>
<line x1="389.35" y1="219.40" x2="390.85" y2="219.40" stroke="#3a3a3a" stroke-width="0.8"/>
<text x="385.40" y="222.05" font-family="Liberation Serif" font-size="7.2" font-weight="bold" fill="#000" text-anchor="end" stroke="#000" stroke-width="0.22" textLength="9.40" lengthAdjust="spacingAndGlyphs">100</text>
<line x1="390.70" y1="307.20" x2="390.70" y2="308.50" stroke="#3a3a3a" stroke-width="0.8"/>
<text x="390.70" y="318.38" font-family="Liberation Serif" font-size="7.2" font-weight="bold" fill="#000" text-anchor="middle" stroke="#000" stroke-width="0.22" textLength="3.13" lengthAdjust="spacingAndGlyphs">0</text>
<line x1="415.02" y1="307.20" x2="415.02" y2="308.50" stroke="#3a3a3a" stroke-width="0.8"/>
<text x="415.02" y="318.38" font-family="Liberation Serif" font-size="7.2" font-weight="bold" fill="#000" text-anchor="middle" stroke="#000" stroke-width="0.22" textLength="3.13" lengthAdjust="spacingAndGlyphs">5</text>
<line x1="439.34" y1="307.20" x2="439.34" y2="308.50" stroke="#3a3a3a" stroke-width="0.8"/>
<text x="439.34" y="318.38" font-family="Liberation Serif" font-size="7.2" font-weight="bold" fill="#000" text-anchor="middle" stroke="#000" stroke-width="0.22" textLength="6.26" lengthAdjust="spacingAndGlyphs">10</text>
<line x1="463.66" y1="307.20" x2="463.66" y2="308.50" stroke="#3a3a3a" stroke-width="0.8"/>
<text x="463.66" y="318.38" font-family="Liberation Serif" font-size="7.2" font-weight="bold" fill="#000" text-anchor="middle" stroke="#000" stroke-width="0.22" textLength="6.26" lengthAdjust="spacingAndGlyphs">15</text>
<line x1="487.98" y1="307.20" x2="487.98" y2="308.50" stroke="#3a3a3a" stroke-width="0.8"/>
<text x="487.98" y="318.38" font-family="Liberation Serif" font-size="7.2" font-weight="bold" fill="#000" text-anchor="middle" stroke="#000" stroke-width="0.22" textLength="6.26" lengthAdjust="spacingAndGlyphs">20</text>
<line x1="512.30" y1="307.20" x2="512.30" y2="308.50" stroke="#3a3a3a" stroke-width="0.8"/>
<text x="512.30" y="318.38" font-family="Liberation Serif" font-size="7.2" font-weight="bold" fill="#000" text-anchor="middle" stroke="#000" stroke-width="0.22" textLength="6.26" lengthAdjust="spacingAndGlyphs">25</text>
<text x="440.30" y="328.10" font-family="Liberation Serif" font-size="7.6" font-weight="bold" fill="#000" text-anchor="start" stroke="#000" stroke-width="0.3" textLength="22.80" lengthAdjust="spacingAndGlyphs">E/T ratio</text>
<text x="373.70" y="264.50" transform="rotate(-90 373.70 264.50)" font-family="Liberation Serif" font-size="7.9" font-weight="bold" fill="#000" text-anchor="middle" stroke="#000" stroke-width="0.3" textLength="56.50" lengthAdjust="spacingAndGlyphs">Specific lysis (%)</text>
<polyline points="395.62,307.20 415.27,300.18 439.85,285.25 464.42,277.35 489.00,267.69" fill="none" stroke="#e070e0" stroke-width="1.35" stroke-linejoin="round"/>
<line x1="395.62" y1="308.08" x2="395.62" y2="306.32" stroke="#505050" stroke-width="1.0"/>
<line x1="394.51" y1="308.08" x2="396.72" y2="308.08" stroke="#505050" stroke-width="1.0"/>
<line x1="394.51" y1="306.32" x2="396.72" y2="306.32" stroke="#505050" stroke-width="1.0"/>
<line x1="415.27" y1="301.05" x2="415.27" y2="299.30" stroke="#505050" stroke-width="1.0"/>
<line x1="414.17" y1="301.05" x2="416.38" y2="301.05" stroke="#505050" stroke-width="1.0"/>
<line x1="414.17" y1="299.30" x2="416.38" y2="299.30" stroke="#505050" stroke-width="1.0"/>
<line x1="439.85" y1="286.13" x2="439.85" y2="284.37" stroke="#505050" stroke-width="1.0"/>
<line x1="438.75" y1="286.13" x2="440.95" y2="286.13" stroke="#505050" stroke-width="1.0"/>
<line x1="438.75" y1="284.37" x2="440.95" y2="284.37" stroke="#505050" stroke-width="1.0"/>
<line x1="464.42" y1="279.10" x2="464.42" y2="275.59" stroke="#505050" stroke-width="1.0"/>
<line x1="463.32" y1="279.10" x2="465.52" y2="279.10" stroke="#505050" stroke-width="1.0"/>
<line x1="463.32" y1="275.59" x2="465.52" y2="275.59" stroke="#505050" stroke-width="1.0"/>
<line x1="489.00" y1="269.45" x2="489.00" y2="265.93" stroke="#505050" stroke-width="1.0"/>
<line x1="487.90" y1="269.45" x2="490.10" y2="269.45" stroke="#505050" stroke-width="1.0"/>
<line x1="487.90" y1="265.93" x2="490.10" y2="265.93" stroke="#505050" stroke-width="1.0"/>
<rect x="394.43" y="306.01" width="2.38" height="2.38" fill="#a040a0" stroke="#3c0c3c" stroke-width="0.77"/>
<rect x="414.08" y="298.99" width="2.38" height="2.38" fill="#a040a0" stroke="#3c0c3c" stroke-width="0.77"/>
<rect x="438.66" y="284.06" width="2.38" height="2.38" fill="#a040a0" stroke="#3c0c3c" stroke-width="0.77"/>
<rect x="463.23" y="276.16" width="2.38" height="2.38" fill="#a040a0" stroke="#3c0c3c" stroke-width="0.77"/>
<rect x="487.81" y="266.50" width="2.38" height="2.38" fill="#a040a0" stroke="#3c0c3c" stroke-width="0.77"/>
<polyline points="395.62,305.44 415.27,293.15 439.85,275.59 464.42,264.18 489.00,247.50" fill="none" stroke="#1c2378" stroke-width="1.35" stroke-linejoin="round"/>
<line x1="395.62" y1="306.32" x2="395.62" y2="304.57" stroke="#505050" stroke-width="1.0"/>
<line x1="394.51" y1="306.32" x2="396.72" y2="306.32" stroke="#505050" stroke-width="1.0"/>
<line x1="394.51" y1="304.57" x2="396.72" y2="304.57" stroke="#505050" stroke-width="1.0"/>
<line x1="415.27" y1="294.03" x2="415.27" y2="292.27" stroke="#505050" stroke-width="1.0"/>
<line x1="414.17" y1="294.03" x2="416.38" y2="294.03" stroke="#505050" stroke-width="1.0"/>
<line x1="414.17" y1="292.27" x2="416.38" y2="292.27" stroke="#505050" stroke-width="1.0"/>
<line x1="439.85" y1="276.47" x2="439.85" y2="274.71" stroke="#505050" stroke-width="1.0"/>
<line x1="438.75" y1="276.47" x2="440.95" y2="276.47" stroke="#505050" stroke-width="1.0"/>
<line x1="438.75" y1="274.71" x2="440.95" y2="274.71" stroke="#505050" stroke-width="1.0"/>
<line x1="464.42" y1="266.81" x2="464.42" y2="261.54" stroke="#505050" stroke-width="1.0"/>
<line x1="463.32" y1="266.81" x2="465.52" y2="266.81" stroke="#505050" stroke-width="1.0"/>
<line x1="463.32" y1="261.54" x2="465.52" y2="261.54" stroke="#505050" stroke-width="1.0"/>
<line x1="489.00" y1="248.37" x2="489.00" y2="246.62" stroke="#505050" stroke-width="1.0"/>
<line x1="487.90" y1="248.37" x2="490.10" y2="248.37" stroke="#505050" stroke-width="1.0"/>
<line x1="487.90" y1="246.62" x2="490.10" y2="246.62" stroke="#505050" stroke-width="1.0"/>
<rect x="394.25" y="304.08" width="2.72" height="2.72" fill="#12164a"/>
<rect x="413.91" y="291.79" width="2.72" height="2.72" fill="#12164a"/>
<rect x="438.49" y="274.23" width="2.72" height="2.72" fill="#12164a"/>
<rect x="463.06" y="262.82" width="2.72" height="2.72" fill="#12164a"/>
<rect x="487.64" y="246.14" width="2.72" height="2.72" fill="#12164a"/>
<polyline points="395.62,301.05 415.27,287.01 439.85,266.81 464.42,253.64 489.00,238.72" fill="none" stroke="#f2ee8a" stroke-width="1.35" stroke-linejoin="round"/>
<line x1="395.62" y1="301.93" x2="395.62" y2="300.18" stroke="#505050" stroke-width="1.0"/>
<line x1="394.51" y1="301.93" x2="396.72" y2="301.93" stroke="#505050" stroke-width="1.0"/>
<line x1="394.51" y1="300.18" x2="396.72" y2="300.18" stroke="#505050" stroke-width="1.0"/>
<line x1="415.27" y1="287.88" x2="415.27" y2="286.13" stroke="#505050" stroke-width="1.0"/>
<line x1="414.17" y1="287.88" x2="416.38" y2="287.88" stroke="#505050" stroke-width="1.0"/>
<line x1="414.17" y1="286.13" x2="416.38" y2="286.13" stroke="#505050" stroke-width="1.0"/>
<line x1="439.85" y1="267.69" x2="439.85" y2="265.93" stroke="#505050" stroke-width="1.0"/>
<line x1="438.75" y1="267.69" x2="440.95" y2="267.69" stroke="#505050" stroke-width="1.0"/>
<line x1="438.75" y1="265.93" x2="440.95" y2="265.93" stroke="#505050" stroke-width="1.0"/>
<line x1="464.42" y1="255.40" x2="464.42" y2="251.89" stroke="#505050" stroke-width="1.0"/>
<line x1="463.32" y1="255.40" x2="465.52" y2="255.40" stroke="#505050" stroke-width="1.0"/>
<line x1="463.32" y1="251.89" x2="465.52" y2="251.89" stroke="#505050" stroke-width="1.0"/>
<line x1="489.00" y1="240.47" x2="489.00" y2="236.96" stroke="#505050" stroke-width="1.0"/>
<line x1="487.90" y1="240.47" x2="490.10" y2="240.47" stroke="#505050" stroke-width="1.0"/>
<line x1="487.90" y1="236.96" x2="490.10" y2="236.96" stroke="#505050" stroke-width="1.0"/>
<polygon points="394.00,299.84 397.23,299.84 395.62,302.67" fill="#b8b040" stroke="#1e1e00" stroke-width="0.68"/>
<polygon points="413.66,285.79 416.89,285.79 415.27,288.62" fill="#b8b040" stroke="#1e1e00" stroke-width="0.68"/>
<polygon points="438.23,265.60 441.46,265.60 439.85,268.43" fill="#b8b040" stroke="#1e1e00" stroke-width="0.68"/>
<polygon points="462.81,252.43 466.04,252.43 464.42,255.26" fill="#b8b040" stroke="#1e1e00" stroke-width="0.68"/>
<polygon points="487.38,237.50 490.62,237.50 489.00,240.33" fill="#b8b040" stroke="#1e1e00" stroke-width="0.68"/>
<polyline points="395.62,296.66 415.27,281.74 439.85,265.93 464.42,251.89 489.00,236.96" fill="none" stroke="#248e2e" stroke-width="1.35" stroke-linejoin="round"/>
<line x1="395.62" y1="297.54" x2="395.62" y2="295.79" stroke="#505050" stroke-width="1.0"/>
<line x1="394.51" y1="297.54" x2="396.72" y2="297.54" stroke="#505050" stroke-width="1.0"/>
<line x1="394.51" y1="295.79" x2="396.72" y2="295.79" stroke="#505050" stroke-width="1.0"/>
<line x1="415.27" y1="282.62" x2="415.27" y2="280.86" stroke="#505050" stroke-width="1.0"/>
<line x1="414.17" y1="282.62" x2="416.38" y2="282.62" stroke="#505050" stroke-width="1.0"/>
<line x1="414.17" y1="280.86" x2="416.38" y2="280.86" stroke="#505050" stroke-width="1.0"/>
<line x1="439.85" y1="266.81" x2="439.85" y2="265.06" stroke="#505050" stroke-width="1.0"/>
<line x1="438.75" y1="266.81" x2="440.95" y2="266.81" stroke="#505050" stroke-width="1.0"/>
<line x1="438.75" y1="265.06" x2="440.95" y2="265.06" stroke="#505050" stroke-width="1.0"/>
<line x1="464.42" y1="253.64" x2="464.42" y2="250.13" stroke="#505050" stroke-width="1.0"/>
<line x1="463.32" y1="253.64" x2="465.52" y2="253.64" stroke="#505050" stroke-width="1.0"/>
<line x1="463.32" y1="250.13" x2="465.52" y2="250.13" stroke="#505050" stroke-width="1.0"/>
<line x1="489.00" y1="238.72" x2="489.00" y2="235.20" stroke="#505050" stroke-width="1.0"/>
<line x1="487.90" y1="238.72" x2="490.10" y2="238.72" stroke="#505050" stroke-width="1.0"/>
<line x1="487.90" y1="235.20" x2="490.10" y2="235.20" stroke="#505050" stroke-width="1.0"/>
<polygon points="394.00,295.45 397.23,295.45 395.62,298.28" fill="#0a3a10"/>
<polygon points="413.66,280.53 416.89,280.53 415.27,283.35" fill="#0a3a10"/>
<polygon points="438.23,264.72 441.46,264.72 439.85,267.55" fill="#0a3a10"/>
<polygon points="462.81,250.67 466.04,250.67 464.42,253.50" fill="#0a3a10"/>
<polygon points="487.38,235.75 490.62,235.75 489.00,238.57" fill="#0a3a10"/>
<polyline points="395.62,294.91 415.27,279.10 439.85,258.91 464.42,242.23 489.00,229.06" fill="none" stroke="#d23c5a" stroke-width="1.35" stroke-linejoin="round"/>
<line x1="395.62" y1="295.79" x2="395.62" y2="294.03" stroke="#505050" stroke-width="1.0"/>
<line x1="394.51" y1="295.79" x2="396.72" y2="295.79" stroke="#505050" stroke-width="1.0"/>
<line x1="394.51" y1="294.03" x2="396.72" y2="294.03" stroke="#505050" stroke-width="1.0"/>
<line x1="415.27" y1="279.98" x2="415.27" y2="278.23" stroke="#505050" stroke-width="1.0"/>
<line x1="414.17" y1="279.98" x2="416.38" y2="279.98" stroke="#505050" stroke-width="1.0"/>
<line x1="414.17" y1="278.23" x2="416.38" y2="278.23" stroke="#505050" stroke-width="1.0"/>
<line x1="439.85" y1="259.79" x2="439.85" y2="258.03" stroke="#505050" stroke-width="1.0"/>
<line x1="438.75" y1="259.79" x2="440.95" y2="259.79" stroke="#505050" stroke-width="1.0"/>
<line x1="438.75" y1="258.03" x2="440.95" y2="258.03" stroke="#505050" stroke-width="1.0"/>
<line x1="464.42" y1="243.98" x2="464.42" y2="240.47" stroke="#505050" stroke-width="1.0"/>
<line x1="463.32" y1="243.98" x2="465.52" y2="243.98" stroke="#505050" stroke-width="1.0"/>
<line x1="463.32" y1="240.47" x2="465.52" y2="240.47" stroke="#505050" stroke-width="1.0"/>
<line x1="489.00" y1="229.94" x2="489.00" y2="228.18" stroke="#505050" stroke-width="1.0"/>
<line x1="487.90" y1="229.94" x2="490.10" y2="229.94" stroke="#505050" stroke-width="1.0"/>
<line x1="487.90" y1="228.18" x2="490.10" y2="228.18" stroke="#505050" stroke-width="1.0"/>
<circle cx="395.62" cy="294.91" r="1.19" fill="#b04060" stroke="#5a0c24" stroke-width="0.77"/>
<circle cx="415.27" cy="279.10" r="1.19" fill="#b04060" stroke="#5a0c24" stroke-width="0.77"/>
<circle cx="439.85" cy="258.91" r="1.19" fill="#b04060" stroke="#5a0c24" stroke-width="0.77"/>
<circle cx="464.42" cy="242.23" r="1.19" fill="#b04060" stroke="#5a0c24" stroke-width="0.77"/>
<circle cx="489.00" cy="229.06" r="1.19" fill="#b04060" stroke="#5a0c24" stroke-width="0.77"/>
<polyline points="395.62,289.64 415.27,271.20 439.85,241.35 464.42,234.33 489.00,223.79" fill="none" stroke="#111111" stroke-width="1.35" stroke-linejoin="round"/>
<line x1="395.62" y1="290.52" x2="395.62" y2="288.76" stroke="#505050" stroke-width="1.0"/>
<line x1="394.51" y1="290.52" x2="396.72" y2="290.52" stroke="#505050" stroke-width="1.0"/>
<line x1="394.51" y1="288.76" x2="396.72" y2="288.76" stroke="#505050" stroke-width="1.0"/>
<line x1="415.27" y1="272.08" x2="415.27" y2="270.32" stroke="#505050" stroke-width="1.0"/>
<line x1="414.17" y1="272.08" x2="416.38" y2="272.08" stroke="#505050" stroke-width="1.0"/>
<line x1="414.17" y1="270.32" x2="416.38" y2="270.32" stroke="#505050" stroke-width="1.0"/>
<line x1="439.85" y1="242.23" x2="439.85" y2="240.47" stroke="#505050" stroke-width="1.0"/>
<line x1="438.75" y1="242.23" x2="440.95" y2="242.23" stroke="#505050" stroke-width="1.0"/>
<line x1="438.75" y1="240.47" x2="440.95" y2="240.47" stroke="#505050" stroke-width="1.0"/>
<line x1="464.42" y1="235.20" x2="464.42" y2="233.45" stroke="#505050" stroke-width="1.0"/>
<line x1="463.32" y1="235.20" x2="465.52" y2="235.20" stroke="#505050" stroke-width="1.0"/>
<line x1="463.32" y1="233.45" x2="465.52" y2="233.45" stroke="#505050" stroke-width="1.0"/>
<line x1="489.00" y1="224.67" x2="489.00" y2="222.91" stroke="#505050" stroke-width="1.0"/>
<line x1="487.90" y1="224.67" x2="490.10" y2="224.67" stroke="#505050" stroke-width="1.0"/>
<line x1="487.90" y1="222.91" x2="490.10" y2="222.91" stroke="#505050" stroke-width="1.0"/>
<circle cx="395.62" cy="289.64" r="1.53" fill="#000"/>
<circle cx="415.27" cy="271.20" r="1.53" fill="#000"/>
<circle cx="439.85" cy="241.35" r="1.53" fill="#000"/>
<circle cx="464.42" cy="234.33" r="1.53" fill="#000"/>
<circle cx="489.00" cy="223.79" r="1.53" fill="#000"/>
<line x1="395.90" y1="164.20" x2="409.90" y2="164.20" stroke="#111111" stroke-width="1.25"/>
<circle cx="402.90" cy="164.20" r="2.07" fill="#000"/>
<text x="420.10" y="167.50" font-family="Liberation Serif" font-size="7.8" font-weight="bold" fill="#000" text-anchor="start" stroke="#000" stroke-width="0.3" textLength="64.53" lengthAdjust="spacingAndGlyphs">CTL/d365 vs DA1-3b</text>
<line x1="395.90" y1="174.80" x2="409.90" y2="174.80" stroke="#d23c5a" stroke-width="1.25"/>
<circle cx="402.90" cy="174.80" r="1.61" fill="#b04060" stroke="#5a0c24" stroke-width="1.03"/>
<text x="420.10" y="178.10" font-family="Liberation Serif" font-size="7.8" font-weight="bold" fill="#000" text-anchor="start" stroke="#000" stroke-width="0.3" textLength="77.50" lengthAdjust="spacingAndGlyphs">CTL/d365 vs DA1-3b/d35</text>
<line x1="395.90" y1="185.60" x2="409.90" y2="185.60" stroke="#248e2e" stroke-width="1.25"/>
<polygon points="400.71,183.96 405.08,183.96 402.90,187.78" fill="#0a3a10"/>
<text x="420.10" y="188.90" font-family="Liberation Serif" font-size="7.8" font-weight="bold" fill="#000" text-anchor="start" stroke="#000" stroke-width="0.3" textLength="77.50" lengthAdjust="spacingAndGlyphs">CTL/d365 vs DA1-3b/d60</text>
<line x1="395.90" y1="196.40" x2="409.90" y2="196.40" stroke="#f2ee8a" stroke-width="1.25"/>
<polygon points="400.71,194.76 405.08,194.76 402.90,198.59" fill="#b8b040" stroke="#1e1e00" stroke-width="0.92"/>
<text x="420.10" y="199.70" font-family="Liberation Serif" font-size="7.8" font-weight="bold" fill="#000" text-anchor="start" stroke="#000" stroke-width="0.3" textLength="77.50" lengthAdjust="spacingAndGlyphs">CTL/d365 vs DA1-3b/d90</text>
<line x1="395.90" y1="206.90" x2="409.90" y2="206.90" stroke="#1c2378" stroke-width="1.25"/>
<rect x="401.06" y="205.06" width="3.68" height="3.68" fill="#12164a"/>
<text x="420.10" y="210.20" font-family="Liberation Serif" font-size="7.8" font-weight="bold" fill="#000" text-anchor="start" stroke="#000" stroke-width="0.3" textLength="81.04" lengthAdjust="spacingAndGlyphs">CTL/d365 vs DA1-3b/d120</text>
<line x1="395.90" y1="217.50" x2="409.90" y2="217.50" stroke="#e070e0" stroke-width="1.25"/>
<rect x="401.29" y="215.89" width="3.22" height="3.22" fill="#a040a0" stroke="#3c0c3c" stroke-width="1.03"/>
<text x="420.10" y="220.80" font-family="Liberation Serif" font-size="7.8" font-weight="bold" fill="#000" text-anchor="start" stroke="#000" stroke-width="0.3" textLength="81.04" lengthAdjust="spacingAndGlyphs">CTL/d365 vs DA1-3b/d365</text>
<text x="166.10" y="349.80" font-family="Liberation Sans" font-size="13" font-weight="bold" fill="#000" text-anchor="start" stroke="#000" stroke-width="0.3">G</text>
<rect x="206.00" y="345.00" width="135.30" height="96.80" fill="none" stroke="#666" stroke-width="0.9"/>
<line x1="206.00" y1="345.00" x2="206.00" y2="442.30" stroke="#333" stroke-width="1.0"/>
<line x1="205.50" y1="441.80" x2="341.30" y2="441.80" stroke="#333" stroke-width="1.0"/>
<line x1="204.50" y1="441.80" x2="206.00" y2="441.80" stroke="#3a3a3a" stroke-width="0.8"/>
<text x="199.60" y="444.84" font-family="Liberation Serif" font-size="7.0" font-weight="bold" fill="#000" text-anchor="end" stroke="#000" stroke-width="0.22" textLength="3.40" lengthAdjust="spacingAndGlyphs">0</text>
<line x1="204.50" y1="422.44" x2="206.00" y2="422.44" stroke="#3a3a3a" stroke-width="0.8"/>
<text x="199.60" y="425.48" font-family="Liberation Serif" font-size="7.0" font-weight="bold" fill="#000" text-anchor="end" stroke="#000" stroke-width="0.22" textLength="10.19" lengthAdjust="spacingAndGlyphs">500</text>
<line x1="204.50" y1="403.08" x2="206.00" y2="403.08" stroke="#3a3a3a" stroke-width="0.8"/>
<text x="199.60" y="406.12" font-family="Liberation Serif" font-size="7.0" font-weight="bold" fill="#000" text-anchor="end" stroke="#000" stroke-width="0.22" textLength="13.58" lengthAdjust="spacingAndGlyphs">1000</text>
<line x1="204.50" y1="383.72" x2="206.00" y2="383.72" stroke="#3a3a3a" stroke-width="0.8"/>
<text x="199.60" y="386.76" font-family="Liberation Serif" font-size="7.0" font-weight="bold" fill="#000" text-anchor="end" stroke="#000" stroke-width="0.22" textLength="13.58" lengthAdjust="spacingAndGlyphs">1500</text>
<line x1="204.50" y1="364.36" x2="206.00" y2="364.36" stroke="#3a3a3a" stroke-width="0.8"/>
<text x="199.60" y="367.40" font-family="Liberation Serif" font-size="7.0" font-weight="bold" fill="#000" text-anchor="end" stroke="#000" stroke-width="0.22" textLength="13.58" lengthAdjust="spacingAndGlyphs">2000</text>
<line x1="204.50" y1="345.00" x2="206.00" y2="345.00" stroke="#3a3a3a" stroke-width="0.8"/>
<text x="199.60" y="348.04" font-family="Liberation Serif" font-size="7.0" font-weight="bold" fill="#000" text-anchor="end" stroke="#000" stroke-width="0.22" textLength="13.58" lengthAdjust="spacingAndGlyphs">2500</text>
<rect x="217.30" y="431.62" width="4.9" height="10.18" fill="#000"/>
<rect x="223.70" y="433.91" width="4.3" height="7.89" fill="#fff" stroke="#111" stroke-width="0.8"/>
<line x1="222.70" y1="441.80" x2="222.70" y2="443.30" stroke="#3a3a3a" stroke-width="0.8"/>
<rect x="234.23" y="363.59" width="4.9" height="78.21" fill="#000"/>
<rect x="240.63" y="395.19" width="4.3" height="46.61" fill="#fff" stroke="#111" stroke-width="0.8"/>
<line x1="239.63" y1="441.80" x2="239.63" y2="443.30" stroke="#3a3a3a" stroke-width="0.8"/>
<rect x="251.16" y="371.41" width="4.9" height="70.39" fill="#000"/>
<rect x="257.56" y="399.22" width="4.3" height="42.58" fill="#fff" stroke="#111" stroke-width="0.8"/>
<line x1="256.56" y1="441.80" x2="256.56" y2="443.30" stroke="#3a3a3a" stroke-width="0.8"/>
<rect x="268.09" y="375.01" width="4.9" height="66.79" fill="#000"/>
<rect x="274.49" y="405.03" width="4.3" height="36.77" fill="#fff" stroke="#111" stroke-width="0.8"/>
<line x1="273.49" y1="441.80" x2="273.49" y2="443.30" stroke="#3a3a3a" stroke-width="0.8"/>
<rect x="285.02" y="386.12" width="4.9" height="55.68" fill="#000"/>
<rect x="291.42" y="411.30" width="4.3" height="30.50" fill="#fff" stroke="#111" stroke-width="0.8"/>
<line x1="290.42" y1="441.80" x2="290.42" y2="443.30" stroke="#3a3a3a" stroke-width="0.8"/>
<rect x="301.95" y="392.39" width="4.9" height="49.41" fill="#000"/>
<rect x="308.35" y="417.69" width="4.3" height="24.11" fill="#fff" stroke="#111" stroke-width="0.8"/>
<line x1="307.35" y1="441.80" x2="307.35" y2="443.30" stroke="#3a3a3a" stroke-width="0.8"/>
<rect x="318.88" y="410.01" width="4.9" height="31.79" fill="#000"/>
<rect x="325.28" y="426.60" width="4.3" height="15.20" fill="#fff" stroke="#111" stroke-width="0.8"/>
<line x1="324.28" y1="441.80" x2="324.28" y2="443.30" stroke="#3a3a3a" stroke-width="0.8"/>
<rect x="278.9" y="352.9" width="21.3" height="3.0" fill="#000"/>
<rect x="279.3" y="365.5" width="20.5" height="2.6" fill="#fff" stroke="#111" stroke-width="0.8"/>
<text x="306.40" y="357.40" font-family="Liberation Serif" font-size="7.4" font-weight="bold" fill="#000" text-anchor="start" stroke="#000" stroke-width="0.3" textLength="19.70" lengthAdjust="spacingAndGlyphs">IFN- γ</text>
<text x="306.40" y="369.60" font-family="Liberation Serif" font-size="7.4" font-weight="bold" fill="#000" text-anchor="start" stroke="#000" stroke-width="0.3" textLength="24.20" lengthAdjust="spacingAndGlyphs">TNF- α</text>
<text x="177.10" y="393.10" transform="rotate(-90 177.10 393.10)" font-family="Liberation Serif" font-size="8.2" font-weight="bold" fill="#000" text-anchor="middle" stroke="#000" stroke-width="0.3" textLength="22.60" lengthAdjust="spacingAndGlyphs">pg/mL</text>
<text x="250.30" y="489.60" font-family="Liberation Serif" font-size="7.4" font-weight="bold" fill="#000" text-anchor="start" stroke="#000" stroke-width="0.3" textLength="18.40" lengthAdjust="spacingAndGlyphs">Target</text>
<text x="224.10" y="449.80" transform="rotate(-51 224.10 449.80)" font-family="Liberation Serif" font-size="7.1" font-weight="bold" fill="#000" text-anchor="end" stroke="#000" stroke-width="0.3">Control</text>
<text x="239.63" y="450.50" transform="rotate(-51 239.63 450.50)" font-family="Liberation Serif" font-size="7.1" font-weight="bold" fill="#000" text-anchor="end" stroke="#000" stroke-width="0.3">DA1-3b</text>
<text x="255.16" y="451.20" transform="rotate(-51 255.16 451.20)" font-family="Liberation Serif" font-size="7.1" font-weight="bold" fill="#000" text-anchor="end" stroke="#000" stroke-width="0.3">DA1-3b/d35</text>
<text x="272.09" y="451.20" transform="rotate(-51 272.09 451.20)" font-family="Liberation Serif" font-size="7.1" font-weight="bold" fill="#000" text-anchor="end" stroke="#000" stroke-width="0.3">DA1-3b/d60</text>
<text x="289.02" y="451.20" transform="rotate(-51 289.02 451.20)" font-family="Liberation Serif" font-size="7.1" font-weight="bold" fill="#000" text-anchor="end" stroke="#000" stroke-width="0.3">DA1-3b/d90</text>
<text x="305.95" y="451.20" transform="rotate(-51 305.95 451.20)" font-family="Liberation Serif" font-size="7.1" font-weight="bold" fill="#000" text-anchor="end" stroke="#000" stroke-width="0.3">DA1-3b/d120</text>
<text x="322.88" y="451.20" transform="rotate(-51 322.88 451.20)" font-family="Liberation Serif" font-size="7.1" font-weight="bold" fill="#000" text-anchor="end" stroke="#000" stroke-width="0.3">DA1-3b/d365</text>
</g>
</svg>
</body></html>
